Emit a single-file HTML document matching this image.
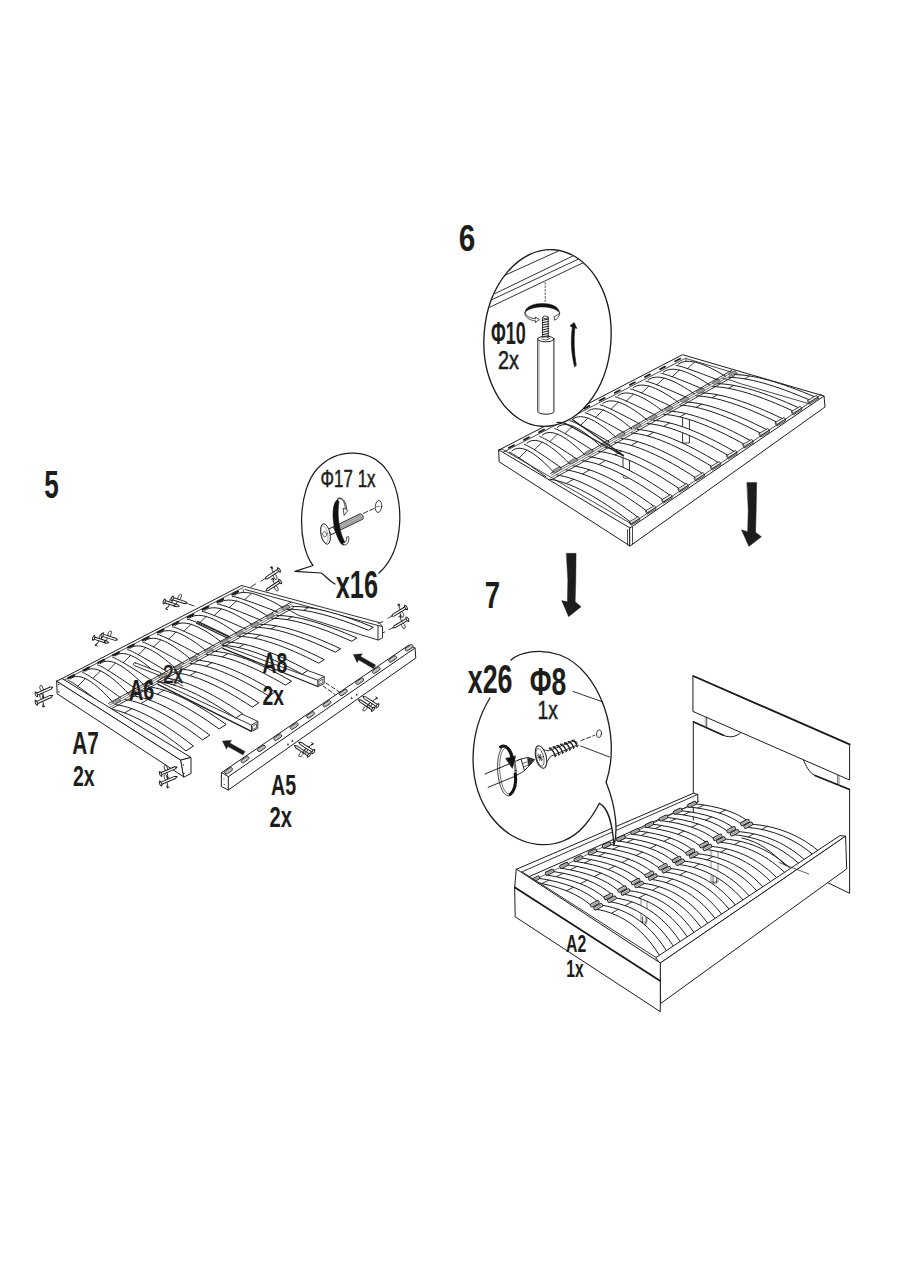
<!DOCTYPE html>
<html><head><meta charset="utf-8"><title>Assembly steps 5-7</title>
<style>
html,body{margin:0;padding:0;background:#fff}
svg{display:block;font-family:"Liberation Sans",sans-serif}
path,line,ellipse,circle{stroke-linecap:round;stroke-linejoin:round}
</style></head><body>
<svg width="900" height="1280" viewBox="0 0 900 1280">
<rect width="900" height="1280" fill="#fff"/>
<path d="M241.5,585.5 L379,622.5 L382.5,626.5 L382.5,638 L378,640 L299,615.5 L288,609.5 L243.3,598.3 L243.3,590" stroke="#1c1c1c" stroke-width="0.9" fill="#fff" />
<path d="M378,625.5 L378,640" stroke="#1c1c1c" stroke-width="0.9" fill="none" />
<path d="M245,589.5 L378,625.5 L382.5,626.5" stroke="#1c1c1c" stroke-width="0.9" fill="none" />
<line x1="60" y1="679.6" x2="241.5" y2="585.5" stroke="#1c1c1c" stroke-width="1" />
<line x1="63" y1="680.8" x2="243" y2="587.6" stroke="#1c1c1c" stroke-width="0.8" />
<path d="M232.3,596.3 C236.9,596.7 255,603.2 277.7,612.1 L284.6,608.4 C264.4,596.2 244.3,587.6 234.6,595.2 Z" fill="#fff" stroke="none"/>
<path d="M232.3,596.3 C236.9,596.7 255,603.2 277.7,612.1 M284.6,608.4 C264.4,596.2 244.3,587.6 234.6,595.2" stroke="#1c1c1c" stroke-width="1.0" fill="none" />
<line x1="244.6" y1="599.8" x2="251.5" y2="593.3" stroke="#1c1c1c" stroke-width="0.9" />
<path d="M217.4,603.9 C221.8,604.4 239.7,611.3 262,620.7 L269,616.9 C249.1,604.2 229.3,595.1 219.6,602.8 Z" fill="#fff" stroke="none"/>
<path d="M217.4,603.9 C221.8,604.4 239.7,611.3 262,620.7 M269,616.9 C249.1,604.2 229.3,595.1 219.6,602.8" stroke="#1c1c1c" stroke-width="1.0" fill="none" />
<line x1="229.4" y1="607.6" x2="236.4" y2="601" stroke="#1c1c1c" stroke-width="0.9" />
<path d="M202.4,611.5 C206.8,612.1 224.3,619.4 246.3,629.3 L253.4,625.4 C233.9,612.2 214.4,602.7 204.7,610.4 Z" fill="#fff" stroke="none"/>
<path d="M202.4,611.5 C206.8,612.1 224.3,619.4 246.3,629.3 M253.4,625.4 C233.9,612.2 214.4,602.7 204.7,610.4" stroke="#1c1c1c" stroke-width="1.0" fill="none" />
<line x1="214.2" y1="615.5" x2="221.3" y2="608.8" stroke="#1c1c1c" stroke-width="0.9" />
<path d="M187.4,619.2 C191.8,619.7 209,627.4 230.6,637.8 L237.7,633.9 C218.6,620.1 199.4,610.2 189.8,618 Z" fill="#fff" stroke="none"/>
<path d="M187.4,619.2 C191.8,619.7 209,627.4 230.6,637.8 M237.7,633.9 C218.6,620.1 199.4,610.2 189.8,618" stroke="#1c1c1c" stroke-width="1.0" fill="none" />
<line x1="199.1" y1="623.3" x2="206.2" y2="616.5" stroke="#1c1c1c" stroke-width="0.9" />
<path d="M172.5,626.8 C176.7,627.4 193.7,635.5 214.9,646.4 L222.1,642.5 C203.3,628.1 184.5,617.7 174.8,625.6 Z" fill="#fff" stroke="none"/>
<path d="M172.5,626.8 C176.7,627.4 193.7,635.5 214.9,646.4 M222.1,642.5 C203.3,628.1 184.5,617.7 174.8,625.6" stroke="#1c1c1c" stroke-width="1.0" fill="none" />
<line x1="183.9" y1="631.2" x2="191.1" y2="624.3" stroke="#1c1c1c" stroke-width="0.9" />
<path d="M157.5,634.4 C161.7,635.1 178.3,643.6 199.2,655 L206.5,651 C188,636 169.5,625.3 159.9,633.2 Z" fill="#fff" stroke="none"/>
<path d="M157.5,634.4 C161.7,635.1 178.3,643.6 199.2,655 M206.5,651 C188,636 169.5,625.3 159.9,633.2" stroke="#1c1c1c" stroke-width="1.0" fill="none" />
<line x1="168.8" y1="639.1" x2="176" y2="632" stroke="#1c1c1c" stroke-width="0.9" />
<path d="M142.6,642 C146.7,642.8 163,651.7 183.5,663.5 L190.9,659.5 C172.7,644 154.6,632.8 145,640.8 Z" fill="#fff" stroke="none"/>
<path d="M142.6,642 C146.7,642.8 163,651.7 183.5,663.5 M190.9,659.5 C172.7,644 154.6,632.8 145,640.8" stroke="#1c1c1c" stroke-width="1.0" fill="none" />
<line x1="153.6" y1="646.9" x2="160.9" y2="639.8" stroke="#1c1c1c" stroke-width="0.9" />
<path d="M127.6,649.6 C131.6,650.5 147.7,659.7 167.8,672.1 L175.2,668 C157.4,652 139.6,640.3 130,648.4 Z" fill="#fff" stroke="none"/>
<path d="M127.6,649.6 C131.6,650.5 147.7,659.7 167.8,672.1 M175.2,668 C157.4,652 139.6,640.3 130,648.4" stroke="#1c1c1c" stroke-width="1.0" fill="none" />
<line x1="138.4" y1="654.8" x2="145.8" y2="647.5" stroke="#1c1c1c" stroke-width="0.9" />
<path d="M112.7,657.3 C116.6,658.2 132.3,667.8 152,680.7 L159.6,676.5 C142.1,659.9 124.6,647.9 115.1,656 Z" fill="#fff" stroke="none"/>
<path d="M112.7,657.3 C116.6,658.2 132.3,667.8 152,680.7 M159.6,676.5 C142.1,659.9 124.6,647.9 115.1,656" stroke="#1c1c1c" stroke-width="1.0" fill="none" />
<line x1="123.3" y1="662.6" x2="130.7" y2="655.3" stroke="#1c1c1c" stroke-width="0.9" />
<path d="M97.7,664.9 C101.6,665.9 117,675.9 136.3,689.2 L144,685.1 C126.8,667.9 109.7,655.4 100.2,663.6 Z" fill="#fff" stroke="none"/>
<path d="M97.7,664.9 C101.6,665.9 117,675.9 136.3,689.2 M144,685.1 C126.8,667.9 109.7,655.4 100.2,663.6" stroke="#1c1c1c" stroke-width="1.0" fill="none" />
<line x1="108.1" y1="670.5" x2="115.6" y2="663" stroke="#1c1c1c" stroke-width="0.9" />
<path d="M82.7,672.5 C86.5,673.6 101.7,684 120.6,697.8 L128.4,693.6 C111.6,675.8 94.7,663 85.2,671.2 Z" fill="#fff" stroke="none"/>
<path d="M82.7,672.5 C86.5,673.6 101.7,684 120.6,697.8 M128.4,693.6 C111.6,675.8 94.7,663 85.2,671.2" stroke="#1c1c1c" stroke-width="1.0" fill="none" />
<line x1="93" y1="678.3" x2="100.5" y2="670.8" stroke="#1c1c1c" stroke-width="0.9" />
<path d="M67.8,680.1 C71.5,681.3 86.3,692 104.9,706.4 L112.8,702.1 C96.3,683.8 79.8,670.5 70.3,678.9 Z" fill="#fff" stroke="none"/>
<path d="M67.8,680.1 C71.5,681.3 86.3,692 104.9,706.4 M112.8,702.1 C96.3,683.8 79.8,670.5 70.3,678.9" stroke="#1c1c1c" stroke-width="1.0" fill="none" />
<line x1="77.8" y1="686.2" x2="85.4" y2="678.5" stroke="#1c1c1c" stroke-width="0.9" />
<path d="M288,609.2 C306.7,608.9 333.6,615.9 368.5,630.3 L373.3,627.2 C338.4,612.9 311.6,606 292.8,606.5 Z" fill="#fff" stroke="none"/>
<path d="M288,609.2 C306.7,608.9 333.6,615.9 368.5,630.3 L373.3,627.2 C338.4,612.9 311.6,606 292.8,606.5" stroke="#1c1c1c" stroke-width="1.0" fill="none" />
<line x1="303.6" y1="610.3" x2="308.4" y2="607.6" stroke="#1c1c1c" stroke-width="0.9" />
<path d="M271.7,618.3 C290.5,618.1 317.3,625.8 351.9,641.3 L356.9,638 C322.3,622.7 295.6,615.2 276.8,615.5 Z" fill="#fff" stroke="none"/>
<path d="M271.7,618.3 C290.5,618.1 317.3,625.8 351.9,641.3 L356.9,638 C322.3,622.7 295.6,615.2 276.8,615.5" stroke="#1c1c1c" stroke-width="1.0" fill="none" />
<line x1="287.3" y1="619.6" x2="292.4" y2="616.7" stroke="#1c1c1c" stroke-width="0.9" />
<path d="M255.4,627.3 C274.3,627.4 301,635.8 335.3,652.2 L340.6,648.8 C306.3,632.5 279.6,624.4 260.7,624.4 Z" fill="#fff" stroke="none"/>
<path d="M255.4,627.3 C274.3,627.4 301,635.8 335.3,652.2 L340.6,648.8 C306.3,632.5 279.6,624.4 260.7,624.4" stroke="#1c1c1c" stroke-width="1.0" fill="none" />
<line x1="271" y1="628.9" x2="276.3" y2="625.9" stroke="#1c1c1c" stroke-width="0.9" />
<path d="M239.1,636.4 C258.1,636.7 284.7,645.7 318.7,663.2 L324.2,659.6 C290.2,642.3 263.6,633.5 244.6,633.3 Z" fill="#fff" stroke="none"/>
<path d="M239.1,636.4 C258.1,636.7 284.7,645.7 318.7,663.2 L324.2,659.6 C290.2,642.3 263.6,633.5 244.6,633.3" stroke="#1c1c1c" stroke-width="1.0" fill="none" />
<line x1="254.8" y1="638.3" x2="260.3" y2="635.1" stroke="#1c1c1c" stroke-width="0.9" />
<path d="M222.7,645.3 L317.8,680.2 L317.8,686.5 L324.2,683.5 L324.2,676.5 L228.7,641.8 Z" stroke="#1c1c1c" stroke-width="0.9" fill="#fff" />
<path d="M317.8,680.2 L324.2,676.5" stroke="#1c1c1c" stroke-width="0.9" fill="none" />
<path d="M319.2,681.2 L322.9,679 L322.9,682.6 L319.2,684.6 Z" stroke="#1c1c1c" stroke-width="0.7" fill="none" />
<line x1="222.7" y1="648.3" x2="317.8" y2="686.5" stroke="#1c1c1c" stroke-width="1.3" />
<path d="M222.8,645.4 C241.9,646 268.4,655.6 302.1,674.2 L307.9,670.4 C274.1,652.1 247.6,642.7 228.5,642.2 Z" fill="#fff" stroke="none"/>
<path d="M222.8,645.4 C241.9,646 268.4,655.6 302.1,674.2 L307.9,670.4 C274.1,652.1 247.6,642.7 228.5,642.2" stroke="#1c1c1c" stroke-width="1.0" fill="none" />
<line x1="238.5" y1="647.6" x2="244.2" y2="644.3" stroke="#1c1c1c" stroke-width="0.9" />
<path d="M206.5,654.5 C225.7,655.4 252,665.6 285.5,685.1 L291.5,681.2 C258,661.9 231.6,651.9 212.5,651.2 Z" fill="#fff" stroke="none"/>
<path d="M206.5,654.5 C225.7,655.4 252,665.6 285.5,685.1 L291.5,681.2 C258,661.9 231.6,651.9 212.5,651.2" stroke="#1c1c1c" stroke-width="1.0" fill="none" />
<line x1="222.2" y1="656.9" x2="228.2" y2="653.5" stroke="#1c1c1c" stroke-width="0.9" />
<path d="M190.2,663.5 C209.4,664.7 235.7,675.6 269,696.1 L275.2,692 C241.9,671.7 215.6,661.1 196.4,660.1 Z" fill="#fff" stroke="none"/>
<path d="M190.2,663.5 C209.4,664.7 235.7,675.6 269,696.1 L275.2,692 C241.9,671.7 215.6,661.1 196.4,660.1" stroke="#1c1c1c" stroke-width="1.0" fill="none" />
<line x1="206" y1="666.2" x2="212.1" y2="662.6" stroke="#1c1c1c" stroke-width="0.9" />
<path d="M173.9,672.6 C193.2,674 219.4,685.5 252.4,707.1 L258.8,702.8 C225.8,681.6 199.6,670.3 180.3,669 Z" fill="#fff" stroke="none"/>
<path d="M173.9,672.6 C193.2,674 219.4,685.5 252.4,707.1 L258.8,702.8 C225.8,681.6 199.6,670.3 180.3,669" stroke="#1c1c1c" stroke-width="1.0" fill="none" />
<line x1="189.7" y1="675.5" x2="196.1" y2="671.8" stroke="#1c1c1c" stroke-width="0.9" />
<path d="M157.9,681.3 L251.4,725.1 L251.4,731.4 L257.8,728.4 L257.8,721.4 L163.9,677.8 Z" stroke="#1c1c1c" stroke-width="0.9" fill="#fff" />
<path d="M251.4,725.1 L257.8,721.4" stroke="#1c1c1c" stroke-width="0.9" fill="none" />
<path d="M252.8,726.1 L256.5,723.9 L256.5,727.5 L252.8,729.5 Z" stroke="#1c1c1c" stroke-width="0.7" fill="none" />
<line x1="157.9" y1="684.3" x2="251.4" y2="731.4" stroke="#1c1c1c" stroke-width="1.3" />
<path d="M157.6,681.6 C177,683.4 203.1,695.5 235.8,718 L242.5,713.6 C209.7,691.4 183.6,679.5 164.3,677.9 Z" fill="#fff" stroke="none"/>
<path d="M157.6,681.6 C177,683.4 203.1,695.5 235.8,718 L242.5,713.6 C209.7,691.4 183.6,679.5 164.3,677.9" stroke="#1c1c1c" stroke-width="1.0" fill="none" />
<line x1="173.4" y1="684.9" x2="180" y2="681" stroke="#1c1c1c" stroke-width="0.9" />
<path d="M141.3,690.6 C160.8,692.7 186.7,705.5 219.2,729 L226.1,724.4 C193.6,701.2 167.6,688.7 148.2,686.8 Z" fill="#fff" stroke="none"/>
<path d="M141.3,690.6 C160.8,692.7 186.7,705.5 219.2,729 L226.1,724.4 C193.6,701.2 167.6,688.7 148.2,686.8" stroke="#1c1c1c" stroke-width="1.0" fill="none" />
<line x1="157.1" y1="694.2" x2="164" y2="690.2" stroke="#1c1c1c" stroke-width="0.9" />
<path d="M125,699.7 C144.5,702.1 170.4,715.5 202.6,739.9 L209.8,735.2 C177.5,711.1 151.6,697.9 132.1,695.8 Z" fill="#fff" stroke="none"/>
<path d="M125,699.7 C144.5,702.1 170.4,715.5 202.6,739.9 L209.8,735.2 C177.5,711.1 151.6,697.9 132.1,695.8" stroke="#1c1c1c" stroke-width="1.0" fill="none" />
<line x1="140.9" y1="703.5" x2="147.9" y2="699.4" stroke="#1c1c1c" stroke-width="0.9" />
<path d="M108.8,708.7 C128.3,711.4 154.1,725.5 186,750.9 L193.4,746 C161.4,720.9 135.6,707.2 116,704.7 Z" fill="#fff" stroke="none"/>
<path d="M108.8,708.7 C128.3,711.4 154.1,725.5 186,750.9 L193.4,746 C161.4,720.9 135.6,707.2 116,704.7" stroke="#1c1c1c" stroke-width="1.0" fill="none" />
<line x1="124.6" y1="712.9" x2="131.9" y2="708.7" stroke="#1c1c1c" stroke-width="0.9" />
<path d="M135.5,662.8 L160.5,672.6 C162,673.6 161,675.8 159.3,675.4 L134.3,665.6 C132.3,664.8 133.5,662.2 135.5,662.8 Z" stroke="#1c1c1c" stroke-width="0.9" fill="#fff" />
<line x1="160.5" y1="673.5" x2="183" y2="686" stroke="#1c1c1c" stroke-width="0.8" />
<line x1="197.5" y1="621.2" x2="229" y2="636.3" stroke="#1c1c1c" stroke-width="1.1" />
<line x1="196.5" y1="623.2" x2="228" y2="638.3" stroke="#1c1c1c" stroke-width="1.1" />
<line x1="108.7" y1="703.4" x2="290.7" y2="602.4" stroke="#1c1c1c" stroke-width="0.9" />
<line x1="109.5" y1="705.1" x2="291.6" y2="604.1" stroke="#1c1c1c" stroke-width="0.6" />
<line x1="110.5" y1="706.9" x2="292.4" y2="605.9" stroke="#1c1c1c" stroke-width="0.6" />
<line x1="111.4" y1="708.8" x2="293.4" y2="607.8" stroke="#1c1c1c" stroke-width="0.9" />
<path d="M112.7,701.6 l6,-3.3 l2.2,2.6 l-6,3.3 z" fill="#9a9a9a" stroke="#1c1c1c" stroke-width="0.5"/>
<path d="M128.1,693.1 l6,-3.3 l2.2,2.6 l-6,3.3 z" fill="#9a9a9a" stroke="#1c1c1c" stroke-width="0.5"/>
<path d="M143.4,684.6 l6,-3.3 l2.2,2.6 l-6,3.3 z" fill="#9a9a9a" stroke="#1c1c1c" stroke-width="0.5"/>
<path d="M158.8,676.1 l6,-3.3 l2.2,2.6 l-6,3.3 z" fill="#9a9a9a" stroke="#1c1c1c" stroke-width="0.5"/>
<path d="M174.2,667.6 l6,-3.3 l2.2,2.6 l-6,3.3 z" fill="#9a9a9a" stroke="#1c1c1c" stroke-width="0.5"/>
<path d="M189.6,659.1 l6,-3.3 l2.2,2.6 l-6,3.3 z" fill="#9a9a9a" stroke="#1c1c1c" stroke-width="0.5"/>
<path d="M204.9,650.6 l6,-3.3 l2.2,2.6 l-6,3.3 z" fill="#9a9a9a" stroke="#1c1c1c" stroke-width="0.5"/>
<path d="M220.3,642.1 l6,-3.3 l2.2,2.6 l-6,3.3 z" fill="#9a9a9a" stroke="#1c1c1c" stroke-width="0.5"/>
<path d="M235.7,633.6 l6,-3.3 l2.2,2.6 l-6,3.3 z" fill="#9a9a9a" stroke="#1c1c1c" stroke-width="0.5"/>
<path d="M251.1,625.1 l6,-3.3 l2.2,2.6 l-6,3.3 z" fill="#9a9a9a" stroke="#1c1c1c" stroke-width="0.5"/>
<path d="M266.4,616.6 l6,-3.3 l2.2,2.6 l-6,3.3 z" fill="#9a9a9a" stroke="#1c1c1c" stroke-width="0.5"/>
<path d="M281.8,608.1 l6,-3.3 l2.2,2.6 l-6,3.3 z" fill="#9a9a9a" stroke="#1c1c1c" stroke-width="0.5"/>
<line x1="68.5" y1="678" x2="74" y2="675.2" stroke="#1c1c1c" stroke-width="2.2" />
<line x1="83.4" y1="670.4" x2="89" y2="667.6" stroke="#1c1c1c" stroke-width="2.2" />
<line x1="98.3" y1="662.8" x2="103.9" y2="660" stroke="#1c1c1c" stroke-width="2.2" />
<line x1="113.2" y1="655.2" x2="118.8" y2="652.4" stroke="#1c1c1c" stroke-width="2.2" />
<line x1="128.1" y1="647.6" x2="133.7" y2="644.8" stroke="#1c1c1c" stroke-width="2.2" />
<line x1="142.9" y1="640" x2="148.6" y2="637.2" stroke="#1c1c1c" stroke-width="2.2" />
<line x1="157.8" y1="632.4" x2="163.4" y2="629.6" stroke="#1c1c1c" stroke-width="2.2" />
<line x1="172.8" y1="624.8" x2="178.4" y2="622" stroke="#1c1c1c" stroke-width="2.2" />
<line x1="187.7" y1="617.2" x2="193.3" y2="614.4" stroke="#1c1c1c" stroke-width="2.2" />
<line x1="202.6" y1="609.6" x2="208.2" y2="606.8" stroke="#1c1c1c" stroke-width="2.2" />
<line x1="217.4" y1="602" x2="223.1" y2="599.2" stroke="#1c1c1c" stroke-width="2.2" />
<line x1="232.4" y1="594.4" x2="238" y2="591.6" stroke="#1c1c1c" stroke-width="2.2" />
<path d="M57,681 L181,760 L184,777 L57.5,694 Z" stroke="#1c1c1c" stroke-width="1" fill="#fff" />
<path d="M57,681 L62,678.5 L191,757.5 L181,760 Z" stroke="#1c1c1c" stroke-width="1" fill="#fff" />
<path d="M181,760 L191,757.5 L191,773.5 L184,777 Z" stroke="#1c1c1c" stroke-width="1" fill="#fff" />
<circle cx="58.7" cy="684.5" r="0.7" fill="#1c1c1c"/>
<circle cx="58.9" cy="692" r="0.7" fill="#1c1c1c"/>
<circle cx="183.5" cy="765" r="0.7" fill="#1c1c1c"/>
<circle cx="184" cy="773.5" r="0.7" fill="#1c1c1c"/>
<path d="M221.7,772.5 L409,645 L415,648 L415.8,658 L228.3,790 L221.7,786.7 Z" stroke="#1c1c1c" stroke-width="1" fill="#fff" />
<path d="M221.7,772.5 L228.3,776.7 L415,648" stroke="#1c1c1c" stroke-width="1" fill="none" />
<line x1="228.3" y1="776.7" x2="228.3" y2="790" stroke="#1c1c1c" stroke-width="1" />
<rect x="-4.4" y="-1.7" width="8.8" height="3.4" rx="1.7" transform="translate(228.6,770.8) rotate(-34)" fill="#cfcfcf" stroke="#1c1c1c" stroke-width="0.8"/>
<rect x="-3" y="-0.6" width="6" height="1.2" rx="0.6" transform="translate(228.6,770.8) rotate(-34)" fill="#fff" stroke="#555" stroke-width="0.4"/>
<rect x="-4.4" y="-1.7" width="8.8" height="3.4" rx="1.7" transform="translate(245,759.6) rotate(-34)" fill="#cfcfcf" stroke="#1c1c1c" stroke-width="0.8"/>
<rect x="-3" y="-0.6" width="6" height="1.2" rx="0.6" transform="translate(245,759.6) rotate(-34)" fill="#fff" stroke="#555" stroke-width="0.4"/>
<rect x="-4.4" y="-1.7" width="8.8" height="3.4" rx="1.7" transform="translate(261.4,748.4) rotate(-34)" fill="#cfcfcf" stroke="#1c1c1c" stroke-width="0.8"/>
<rect x="-3" y="-0.6" width="6" height="1.2" rx="0.6" transform="translate(261.4,748.4) rotate(-34)" fill="#fff" stroke="#555" stroke-width="0.4"/>
<rect x="-4.4" y="-1.7" width="8.8" height="3.4" rx="1.7" transform="translate(277.8,737.3) rotate(-34)" fill="#cfcfcf" stroke="#1c1c1c" stroke-width="0.8"/>
<rect x="-3" y="-0.6" width="6" height="1.2" rx="0.6" transform="translate(277.8,737.3) rotate(-34)" fill="#fff" stroke="#555" stroke-width="0.4"/>
<rect x="-4.4" y="-1.7" width="8.8" height="3.4" rx="1.7" transform="translate(294.2,726.1) rotate(-34)" fill="#cfcfcf" stroke="#1c1c1c" stroke-width="0.8"/>
<rect x="-3" y="-0.6" width="6" height="1.2" rx="0.6" transform="translate(294.2,726.1) rotate(-34)" fill="#fff" stroke="#555" stroke-width="0.4"/>
<rect x="-4.4" y="-1.7" width="8.8" height="3.4" rx="1.7" transform="translate(310.6,714.9) rotate(-34)" fill="#cfcfcf" stroke="#1c1c1c" stroke-width="0.8"/>
<rect x="-3" y="-0.6" width="6" height="1.2" rx="0.6" transform="translate(310.6,714.9) rotate(-34)" fill="#fff" stroke="#555" stroke-width="0.4"/>
<rect x="-4.4" y="-1.7" width="8.8" height="3.4" rx="1.7" transform="translate(327,703.7) rotate(-34)" fill="#cfcfcf" stroke="#1c1c1c" stroke-width="0.8"/>
<rect x="-3" y="-0.6" width="6" height="1.2" rx="0.6" transform="translate(327,703.7) rotate(-34)" fill="#fff" stroke="#555" stroke-width="0.4"/>
<rect x="-4.4" y="-1.7" width="8.8" height="3.4" rx="1.7" transform="translate(343.4,692.5) rotate(-34)" fill="#cfcfcf" stroke="#1c1c1c" stroke-width="0.8"/>
<rect x="-3" y="-0.6" width="6" height="1.2" rx="0.6" transform="translate(343.4,692.5) rotate(-34)" fill="#fff" stroke="#555" stroke-width="0.4"/>
<rect x="-4.4" y="-1.7" width="8.8" height="3.4" rx="1.7" transform="translate(359.8,681.3) rotate(-34)" fill="#cfcfcf" stroke="#1c1c1c" stroke-width="0.8"/>
<rect x="-3" y="-0.6" width="6" height="1.2" rx="0.6" transform="translate(359.8,681.3) rotate(-34)" fill="#fff" stroke="#555" stroke-width="0.4"/>
<rect x="-4.4" y="-1.7" width="8.8" height="3.4" rx="1.7" transform="translate(376.2,670.2) rotate(-34)" fill="#cfcfcf" stroke="#1c1c1c" stroke-width="0.8"/>
<rect x="-3" y="-0.6" width="6" height="1.2" rx="0.6" transform="translate(376.2,670.2) rotate(-34)" fill="#fff" stroke="#555" stroke-width="0.4"/>
<rect x="-4.4" y="-1.7" width="8.8" height="3.4" rx="1.7" transform="translate(392.6,659) rotate(-34)" fill="#cfcfcf" stroke="#1c1c1c" stroke-width="0.8"/>
<rect x="-3" y="-0.6" width="6" height="1.2" rx="0.6" transform="translate(392.6,659) rotate(-34)" fill="#fff" stroke="#555" stroke-width="0.4"/>
<rect x="-4.4" y="-1.7" width="8.8" height="3.4" rx="1.7" transform="translate(409,647.8) rotate(-34)" fill="#cfcfcf" stroke="#1c1c1c" stroke-width="0.8"/>
<rect x="-3" y="-0.6" width="6" height="1.2" rx="0.6" transform="translate(409,647.8) rotate(-34)" fill="#fff" stroke="#555" stroke-width="0.4"/>
<circle cx="224" cy="779" r="0.6" fill="#1c1c1c"/>
<circle cx="224.3" cy="784.5" r="0.6" fill="#1c1c1c"/>
<path d="M287,745.2 l1,-2.4 l1,2.4 z" fill="#1c1c1c"/>
<path d="M291.4,741.7 l1,-2.4 l1,2.4 z" fill="#1c1c1c"/>
<path d="M350.7,699.0 l1,-2.4 l1,2.4 z" fill="#1c1c1c"/>
<path d="M355.7,695.6 l1,-2.4 l1,2.4 z" fill="#1c1c1c"/>
<line x1="323" y1="686" x2="335" y2="694.5" stroke="#1c1c1c" stroke-width="0.9" stroke-dasharray="4 2.5"/>
<line x1="326" y1="683" x2="340" y2="692.5" stroke="#1c1c1c" stroke-width="0.9" stroke-dasharray="4 2.5"/>
<path d="M245,751.4 L230,742.9 L231.5,740.2 L222.4,741 L226.4,749.2 L227.9,746.5 L243,755 Z" stroke="#1d1d1b" stroke-width="0.3" fill="#1d1d1b" />
<path d="M375.7,665.1 L360.8,656.4 L362.4,653.7 L353.3,654.4 L357.1,662.7 L358.7,660 L373.5,668.7 Z" stroke="#1d1d1b" stroke-width="0.3" fill="#1d1d1b" />
<g transform="translate(44.7,694.9)">
<g transform="translate(-0,-4.2) rotate(-24)">
<path d="M-8.75,-1.15 L6.55,-1.15 L8.75,0 L6.55,1.15 L-8.75,1.15 Z" fill="#fff" stroke="#1c1c1c" stroke-width="0.95"/>
<path d="M-9.05,-2.7 C-10.55,-1.5 -10.55,1.5 -9.05,2.7 C-7.85,1.5 -7.85,-1.5 -9.05,-2.7 Z" fill="#fff" stroke="#1c1c1c" stroke-width="0.95"/>
<path d="M-3.0625,-1.3 C-4.4625,-3.9 -2.4625,-7.3 -1.0625,-6.5 C-0.0625,-5.5 -0.4624999999999999,-3 -0.8624999999999998,-1.3" fill="none" stroke="#1c1c1c" stroke-width="0.8"/>
<path d="M-2.8625,1.3 C-2.4625,3.25 -3.4625,5.5249999999999995 -4.6625,6.5 l1.9,0.1 m-1.9,-0.1 l0.4,-1.9" fill="none" stroke="#1c1c1c" stroke-width="0.85"/>
</g>
<g transform="translate(0,4.2) rotate(-24)">
<path d="M-8.75,-1.15 L6.55,-1.15 L8.75,0 L6.55,1.15 L-8.75,1.15 Z" fill="#fff" stroke="#1c1c1c" stroke-width="0.95"/>
<path d="M-9.05,-2.7 C-10.55,-1.5 -10.55,1.5 -9.05,2.7 C-7.85,1.5 -7.85,-1.5 -9.05,-2.7 Z" fill="#fff" stroke="#1c1c1c" stroke-width="0.95"/>
<path d="M-3.0625,-1.3 C-4.4625,-3.9 -2.4625,-7.3 -1.0625,-6.5 C-0.0625,-5.5 -0.4624999999999999,-3 -0.8624999999999998,-1.3" fill="none" stroke="#1c1c1c" stroke-width="0.8"/>
<path d="M-2.8625,1.3 C-2.4625,3.25 -3.4625,5.5249999999999995 -4.6625,6.5 l1.9,0.1 m-1.9,-0.1 l0.4,-1.9" fill="none" stroke="#1c1c1c" stroke-width="0.85"/>
</g>
</g>
<g transform="translate(105.7,639)">
<g transform="translate(-4.3,1.4) rotate(17.7)">
<path d="M-7.75,-1.15 L5.55,-1.15 L7.75,0 L5.55,1.15 L-7.75,1.15 Z" fill="#fff" stroke="#1c1c1c" stroke-width="0.95"/>
<path d="M-8.05,-2.7 C-9.55,-1.5 -9.55,1.5 -8.05,2.7 C-6.85,1.5 -6.85,-1.5 -8.05,-2.7 Z" fill="#fff" stroke="#1c1c1c" stroke-width="0.95"/>
<path d="M-2.7125,-1.3 C-4.1125,-3.9 -2.1125,-7.3 -0.7124999999999999,-6.5 C0.2875000000000001,-5.5 -0.11249999999999982,-3 -0.5124999999999997,-1.3" fill="none" stroke="#1c1c1c" stroke-width="0.8"/>
<path d="M-2.5124999999999997,1.3 C-2.1125,3.25 -3.1125,5.5249999999999995 -4.3125,6.5 l1.9,0.1 m-1.9,-0.1 l0.4,-1.9" fill="none" stroke="#1c1c1c" stroke-width="0.85"/>
</g>
<g transform="translate(4.3,-1.4) rotate(17.7)">
<path d="M-7.75,-1.15 L5.55,-1.15 L7.75,0 L5.55,1.15 L-7.75,1.15 Z" fill="#fff" stroke="#1c1c1c" stroke-width="0.95"/>
<path d="M-8.05,-2.7 C-9.55,-1.5 -9.55,1.5 -8.05,2.7 C-6.85,1.5 -6.85,-1.5 -8.05,-2.7 Z" fill="#fff" stroke="#1c1c1c" stroke-width="0.95"/>
<path d="M-2.7125,-1.3 C-4.1125,-3.9 -2.1125,-7.3 -0.7124999999999999,-6.5 C0.2875000000000001,-5.5 -0.11249999999999982,-3 -0.5124999999999997,-1.3" fill="none" stroke="#1c1c1c" stroke-width="0.8"/>
<path d="M-2.5124999999999997,1.3 C-2.1125,3.25 -3.1125,5.5249999999999995 -4.3125,6.5 l1.9,0.1 m-1.9,-0.1 l0.4,-1.9" fill="none" stroke="#1c1c1c" stroke-width="0.85"/>
</g>
</g>
<g transform="translate(176,602.5)">
<g transform="translate(-4,1.5) rotate(17.7)">
<path d="M-7.75,-1.15 L5.55,-1.15 L7.75,0 L5.55,1.15 L-7.75,1.15 Z" fill="#fff" stroke="#1c1c1c" stroke-width="0.95"/>
<path d="M-8.05,-2.7 C-9.55,-1.5 -9.55,1.5 -8.05,2.7 C-6.85,1.5 -6.85,-1.5 -8.05,-2.7 Z" fill="#fff" stroke="#1c1c1c" stroke-width="0.95"/>
<path d="M-2.7125,-1.3 C-4.1125,-3.9 -2.1125,-7.3 -0.7124999999999999,-6.5 C0.2875000000000001,-5.5 -0.11249999999999982,-3 -0.5124999999999997,-1.3" fill="none" stroke="#1c1c1c" stroke-width="0.8"/>
<path d="M-2.5124999999999997,1.3 C-2.1125,3.25 -3.1125,5.5249999999999995 -4.3125,6.5 l1.9,0.1 m-1.9,-0.1 l0.4,-1.9" fill="none" stroke="#1c1c1c" stroke-width="0.85"/>
</g>
<g transform="translate(4,-1.5) rotate(17.7)">
<path d="M-7.75,-1.15 L5.55,-1.15 L7.75,0 L5.55,1.15 L-7.75,1.15 Z" fill="#fff" stroke="#1c1c1c" stroke-width="0.95"/>
<path d="M-8.05,-2.7 C-9.55,-1.5 -9.55,1.5 -8.05,2.7 C-6.85,1.5 -6.85,-1.5 -8.05,-2.7 Z" fill="#fff" stroke="#1c1c1c" stroke-width="0.95"/>
<path d="M-2.7125,-1.3 C-4.1125,-3.9 -2.1125,-7.3 -0.7124999999999999,-6.5 C0.2875000000000001,-5.5 -0.11249999999999982,-3 -0.5124999999999997,-1.3" fill="none" stroke="#1c1c1c" stroke-width="0.8"/>
<path d="M-2.5124999999999997,1.3 C-2.1125,3.25 -3.1125,5.5249999999999995 -4.3125,6.5 l1.9,0.1 m-1.9,-0.1 l0.4,-1.9" fill="none" stroke="#1c1c1c" stroke-width="0.85"/>
</g>
</g>
<g transform="translate(272.3,580.4)">
<g transform="translate(-0.6,-5.8) rotate(147)">
<path d="M-8.2,-1.15 L5.999999999999999,-1.15 L8.2,0 L5.999999999999999,1.15 L-8.2,1.15 Z" fill="#fff" stroke="#1c1c1c" stroke-width="0.95"/>
<path d="M-8.5,-2.7 C-10.0,-1.5 -10.0,1.5 -8.5,2.7 C-7.299999999999999,1.5 -7.299999999999999,-1.5 -8.5,-2.7 Z" fill="#fff" stroke="#1c1c1c" stroke-width="0.95"/>
<path d="M-2.8699999999999997,-1.3 C-4.27,-3.9 -2.2699999999999996,-7.3 -0.8699999999999997,-6.5 C0.13000000000000034,-5.5 -0.2699999999999996,-3 -0.6699999999999995,-1.3" fill="none" stroke="#1c1c1c" stroke-width="0.8"/>
<path d="M-2.6699999999999995,1.3 C-2.2699999999999996,3.25 -3.2699999999999996,5.5249999999999995 -4.47,6.5 l1.9,0.1 m-1.9,-0.1 l0.4,-1.9" fill="none" stroke="#1c1c1c" stroke-width="0.85"/>
</g>
<g transform="translate(0.6,5.8) rotate(147)">
<path d="M-8.2,-1.15 L5.999999999999999,-1.15 L8.2,0 L5.999999999999999,1.15 L-8.2,1.15 Z" fill="#fff" stroke="#1c1c1c" stroke-width="0.95"/>
<path d="M-8.5,-2.7 C-10.0,-1.5 -10.0,1.5 -8.5,2.7 C-7.299999999999999,1.5 -7.299999999999999,-1.5 -8.5,-2.7 Z" fill="#fff" stroke="#1c1c1c" stroke-width="0.95"/>
<path d="M-2.8699999999999997,-1.3 C-4.27,-3.9 -2.2699999999999996,-7.3 -0.8699999999999997,-6.5 C0.13000000000000034,-5.5 -0.2699999999999996,-3 -0.6699999999999995,-1.3" fill="none" stroke="#1c1c1c" stroke-width="0.8"/>
<path d="M-2.6699999999999995,1.3 C-2.2699999999999996,3.25 -3.2699999999999996,5.5249999999999995 -4.47,6.5 l1.9,0.1 m-1.9,-0.1 l0.4,-1.9" fill="none" stroke="#1c1c1c" stroke-width="0.85"/>
</g>
</g>
<g transform="translate(399.3,617.8)">
<g transform="translate(-0.7,-5.8) rotate(149)">
<path d="M-8.25,-1.15 L6.05,-1.15 L8.25,0 L6.05,1.15 L-8.25,1.15 Z" fill="#fff" stroke="#1c1c1c" stroke-width="0.95"/>
<path d="M-8.55,-2.7 C-10.05,-1.5 -10.05,1.5 -8.55,2.7 C-7.35,1.5 -7.35,-1.5 -8.55,-2.7 Z" fill="#fff" stroke="#1c1c1c" stroke-width="0.95"/>
<path d="M-2.8874999999999997,-1.3 C-4.2875,-3.9 -2.2874999999999996,-7.3 -0.8874999999999997,-6.5 C0.11250000000000027,-5.5 -0.28749999999999964,-3 -0.6874999999999996,-1.3" fill="none" stroke="#1c1c1c" stroke-width="0.8"/>
<path d="M-2.6874999999999996,1.3 C-2.2874999999999996,3.25 -3.2874999999999996,5.5249999999999995 -4.4875,6.5 l1.9,0.1 m-1.9,-0.1 l0.4,-1.9" fill="none" stroke="#1c1c1c" stroke-width="0.85"/>
</g>
<g transform="translate(0.7,5.8) rotate(149)">
<path d="M-8.25,-1.15 L6.05,-1.15 L8.25,0 L6.05,1.15 L-8.25,1.15 Z" fill="#fff" stroke="#1c1c1c" stroke-width="0.95"/>
<path d="M-8.55,-2.7 C-10.05,-1.5 -10.05,1.5 -8.55,2.7 C-7.35,1.5 -7.35,-1.5 -8.55,-2.7 Z" fill="#fff" stroke="#1c1c1c" stroke-width="0.95"/>
<path d="M-2.8874999999999997,-1.3 C-4.2875,-3.9 -2.2874999999999996,-7.3 -0.8874999999999997,-6.5 C0.11250000000000027,-5.5 -0.28749999999999964,-3 -0.6874999999999996,-1.3" fill="none" stroke="#1c1c1c" stroke-width="0.8"/>
<path d="M-2.6874999999999996,1.3 C-2.2874999999999996,3.25 -3.2874999999999996,5.5249999999999995 -4.4875,6.5 l1.9,0.1 m-1.9,-0.1 l0.4,-1.9" fill="none" stroke="#1c1c1c" stroke-width="0.85"/>
</g>
</g>
<g transform="translate(367.8,702.7)">
<g transform="translate(-2.2,1.7) rotate(213)">
<path d="M-8.5,-1.15 L6.3,-1.15 L8.5,0 L6.3,1.15 L-8.5,1.15 Z" fill="#fff" stroke="#1c1c1c" stroke-width="0.95"/>
<path d="M-8.8,-2.7 C-10.3,-1.5 -10.3,1.5 -8.8,2.7 C-7.6,1.5 -7.6,-1.5 -8.8,-2.7 Z" fill="#fff" stroke="#1c1c1c" stroke-width="0.95"/>
<path d="M-2.9749999999999996,-1.3 C-4.375,-3.9 -2.3749999999999996,-7.3 -0.9749999999999996,-6.5 C0.025000000000000355,-5.5 -0.37499999999999956,-3 -0.7749999999999995,-1.3" fill="none" stroke="#1c1c1c" stroke-width="0.8"/>
<path d="M-2.7749999999999995,1.3 C-2.3749999999999996,3.25 -3.3749999999999996,5.5249999999999995 -4.574999999999999,6.5 l1.9,0.1 m-1.9,-0.1 l0.4,-1.9" fill="none" stroke="#1c1c1c" stroke-width="0.85"/>
</g>
<g transform="translate(2.2,-1.7) rotate(213)">
<path d="M-8.5,-1.15 L6.3,-1.15 L8.5,0 L6.3,1.15 L-8.5,1.15 Z" fill="#fff" stroke="#1c1c1c" stroke-width="0.95"/>
<path d="M-8.8,-2.7 C-10.3,-1.5 -10.3,1.5 -8.8,2.7 C-7.6,1.5 -7.6,-1.5 -8.8,-2.7 Z" fill="#fff" stroke="#1c1c1c" stroke-width="0.95"/>
<path d="M-2.9749999999999996,-1.3 C-4.375,-3.9 -2.3749999999999996,-7.3 -0.9749999999999996,-6.5 C0.025000000000000355,-5.5 -0.37499999999999956,-3 -0.7749999999999995,-1.3" fill="none" stroke="#1c1c1c" stroke-width="0.8"/>
<path d="M-2.7749999999999995,1.3 C-2.3749999999999996,3.25 -3.3749999999999996,5.5249999999999995 -4.574999999999999,6.5 l1.9,0.1 m-1.9,-0.1 l0.4,-1.9" fill="none" stroke="#1c1c1c" stroke-width="0.85"/>
</g>
</g>
<g transform="translate(303.7,748.5)">
<g transform="translate(-2.2,1.7) rotate(213)">
<path d="M-8.5,-1.15 L6.3,-1.15 L8.5,0 L6.3,1.15 L-8.5,1.15 Z" fill="#fff" stroke="#1c1c1c" stroke-width="0.95"/>
<path d="M-8.8,-2.7 C-10.3,-1.5 -10.3,1.5 -8.8,2.7 C-7.6,1.5 -7.6,-1.5 -8.8,-2.7 Z" fill="#fff" stroke="#1c1c1c" stroke-width="0.95"/>
<path d="M-2.9749999999999996,-1.3 C-4.375,-3.9 -2.3749999999999996,-7.3 -0.9749999999999996,-6.5 C0.025000000000000355,-5.5 -0.37499999999999956,-3 -0.7749999999999995,-1.3" fill="none" stroke="#1c1c1c" stroke-width="0.8"/>
<path d="M-2.7749999999999995,1.3 C-2.3749999999999996,3.25 -3.3749999999999996,5.5249999999999995 -4.574999999999999,6.5 l1.9,0.1 m-1.9,-0.1 l0.4,-1.9" fill="none" stroke="#1c1c1c" stroke-width="0.85"/>
</g>
<g transform="translate(2.2,-1.7) rotate(213)">
<path d="M-8.5,-1.15 L6.3,-1.15 L8.5,0 L6.3,1.15 L-8.5,1.15 Z" fill="#fff" stroke="#1c1c1c" stroke-width="0.95"/>
<path d="M-8.8,-2.7 C-10.3,-1.5 -10.3,1.5 -8.8,2.7 C-7.6,1.5 -7.6,-1.5 -8.8,-2.7 Z" fill="#fff" stroke="#1c1c1c" stroke-width="0.95"/>
<path d="M-2.9749999999999996,-1.3 C-4.375,-3.9 -2.3749999999999996,-7.3 -0.9749999999999996,-6.5 C0.025000000000000355,-5.5 -0.37499999999999956,-3 -0.7749999999999995,-1.3" fill="none" stroke="#1c1c1c" stroke-width="0.8"/>
<path d="M-2.7749999999999995,1.3 C-2.3749999999999996,3.25 -3.3749999999999996,5.5249999999999995 -4.574999999999999,6.5 l1.9,0.1 m-1.9,-0.1 l0.4,-1.9" fill="none" stroke="#1c1c1c" stroke-width="0.85"/>
</g>
</g>
<g transform="translate(169,775.2)">
<g transform="translate(-0,-4.8) rotate(-23)">
<path d="M-8.75,-1.15 L6.55,-1.15 L8.75,0 L6.55,1.15 L-8.75,1.15 Z" fill="#fff" stroke="#1c1c1c" stroke-width="0.95"/>
<path d="M-9.05,-2.7 C-10.55,-1.5 -10.55,1.5 -9.05,2.7 C-7.85,1.5 -7.85,-1.5 -9.05,-2.7 Z" fill="#fff" stroke="#1c1c1c" stroke-width="0.95"/>
<path d="M-3.0625,-1.3 C-4.4625,-3.9 -2.4625,-7.3 -1.0625,-6.5 C-0.0625,-5.5 -0.4624999999999999,-3 -0.8624999999999998,-1.3" fill="none" stroke="#1c1c1c" stroke-width="0.8"/>
<path d="M-2.8625,1.3 C-2.4625,3.25 -3.4625,5.5249999999999995 -4.6625,6.5 l1.9,0.1 m-1.9,-0.1 l0.4,-1.9" fill="none" stroke="#1c1c1c" stroke-width="0.85"/>
</g>
<g transform="translate(0,4.8) rotate(-23)">
<path d="M-8.75,-1.15 L6.55,-1.15 L8.75,0 L6.55,1.15 L-8.75,1.15 Z" fill="#fff" stroke="#1c1c1c" stroke-width="0.95"/>
<path d="M-9.05,-2.7 C-10.55,-1.5 -10.55,1.5 -9.05,2.7 C-7.85,1.5 -7.85,-1.5 -9.05,-2.7 Z" fill="#fff" stroke="#1c1c1c" stroke-width="0.95"/>
<path d="M-3.0625,-1.3 C-4.4625,-3.9 -2.4625,-7.3 -1.0625,-6.5 C-0.0625,-5.5 -0.4624999999999999,-3 -0.8624999999999998,-1.3" fill="none" stroke="#1c1c1c" stroke-width="0.8"/>
<path d="M-2.8625,1.3 C-2.4625,3.25 -3.4625,5.5249999999999995 -4.6625,6.5 l1.9,0.1 m-1.9,-0.1 l0.4,-1.9" fill="none" stroke="#1c1c1c" stroke-width="0.85"/>
</g>
</g>
<line x1="188.7" y1="604" x2="194" y2="606" stroke="#1c1c1c" stroke-width="0.9" />
<line x1="260.9" y1="581.3" x2="263.8" y2="579.4" stroke="#1c1c1c" stroke-width="0.9" />
<line x1="251" y1="587" x2="255.5" y2="584" stroke="#1c1c1c" stroke-width="0.9" />
<line x1="387.8" y1="618.4" x2="391.7" y2="616.1" stroke="#1c1c1c" stroke-width="0.8" />
<line x1="388.9" y1="629.6" x2="392.8" y2="627.8" stroke="#1c1c1c" stroke-width="0.8" />
<line x1="378.3" y1="623.3" x2="382.8" y2="621.7" stroke="#1c1c1c" stroke-width="0.9" />
<line x1="382.8" y1="632.8" x2="384.6" y2="632" stroke="#1c1c1c" stroke-width="0.9" />
<path d="M335,584 C328,580 325,575 321,573 L295,571.4 L313,565.5 C297,545 297,490 318,468 C338,447 372,448 388,472 C405,497 405,550 379,573" stroke="#1c1c1c" stroke-width="1.25" fill="none" />
<g transform="translate(325.5,534) rotate(-26)">
<path d="M4,-3 L40,-3 C42,-2 42,2 40,3 L4,3 Z" fill="#b9b9b9" stroke="#1c1c1c" stroke-width="0.8"/>
<path d="M4,-3 L10,-3 L10,3 L4,3 Z" fill="#fff" stroke="#1c1c1c" stroke-width="0.7"/>
<path d="M11,-1 L40,-1 M11,1.2 L40,1.2" stroke="#777" stroke-width="0.6"/>
<ellipse cx="0" cy="0" rx="4.6" ry="10.4" transform="rotate(14)" fill="#fff" stroke="#1c1c1c" stroke-width="0.9"/>
<ellipse cx="-1" cy="0" rx="3.2" ry="8.6" transform="rotate(14)" fill="none" stroke="#666" stroke-width="0.5"/>
<path d="M-2.2,-2.2 L0,-3 L1.2,-0.8 L0.4,2 L-1.8,2.6 L-2.8,0.4 Z" fill="none" stroke="#1c1c1c" stroke-width="0.6"/>
</g>
<line x1="363.5" y1="513.3" x2="374" y2="508.5" stroke="#1c1c1c" stroke-width="0.9" stroke-dasharray="4.5 2.5"/>
<ellipse cx="378.5" cy="506.5" rx="3.2" ry="6" transform="rotate(6 378.5 506.5)" fill="#fff" stroke="#1c1c1c" stroke-width="0.8"/>
<line x1="376.5" y1="506.8" x2="379.5" y2="506.2" stroke="#1c1c1c" stroke-width="0.6" />
<path d="M337.5,499.5 C331,503 331,528 340.5,543 C342.5,545.8 345,545.4 346,543.6 C341.5,538 336,519 339,502 Z" stroke="#111" stroke-width="0.5" fill="#111" />
<path d="M343.2,544.6 C347.2,546 349.6,542 348.6,536.6 L346.4,537.2 C347,541 345.6,543 343.6,542.6" stroke="#1c1c1c" stroke-width="0.8" fill="#fff" />
<path d="M337.5,499.5 C341.5,496.5 345,501.5 345.4,509 L343,508.4 L344.2,515.4 L347.8,510.4 L346.6,510 C346.6,502 342.4,496.4 337.5,498.2" stroke="#1c1c1c" stroke-width="0.8" fill="#fff" />
<path d="M499,450 L682.5,354.7 L824,396" stroke="#1c1c1c" stroke-width="1" fill="none" />
<path d="M503.5,452 L685.5,358.3 L819,398.5" stroke="#1c1c1c" stroke-width="0.8" fill="none" />
<path d="M686,359 L686,368 L733,381 L740,383.5 L815,405.5" stroke="#1c1c1c" stroke-width="0.8" fill="none" />
<path d="M676.2,365.4 C680.4,365.7 697.4,371.9 718.7,380.3 L725.6,376.4 C706.8,364.7 687.9,356.5 678.4,364.2 Z" fill="#fff" stroke="none"/>
<path d="M676.2,365.4 C680.4,365.7 697.4,371.9 718.7,380.3 M725.6,376.4 C706.8,364.7 687.9,356.5 678.4,364.2" stroke="#1c1c1c" stroke-width="1.0" fill="none" />
<line x1="687.6" y1="368.6" x2="694.6" y2="362" stroke="#1c1c1c" stroke-width="0.9" />
<path d="M661,373.3 C665.2,373.7 682,380.2 703,389.1 L710,385.2 C691.4,372.9 672.8,364.3 663.3,372.1 Z" fill="#fff" stroke="none"/>
<path d="M661,373.3 C665.2,373.7 682,380.2 703,389.1 M710,385.2 C691.4,372.9 672.8,364.3 663.3,372.1" stroke="#1c1c1c" stroke-width="1.0" fill="none" />
<line x1="672.3" y1="376.7" x2="679.4" y2="370" stroke="#1c1c1c" stroke-width="0.9" />
<path d="M645.8,381.2 C650,381.6 666.6,388.5 687.3,397.8 L694.4,393.9 C676,381.1 657.6,372.1 648.1,380 Z" fill="#fff" stroke="none"/>
<path d="M645.8,381.2 C650,381.6 666.6,388.5 687.3,397.8 M694.4,393.9 C676,381.1 657.6,372.1 648.1,380" stroke="#1c1c1c" stroke-width="1.0" fill="none" />
<line x1="657" y1="384.8" x2="664.1" y2="378" stroke="#1c1c1c" stroke-width="0.9" />
<path d="M630.7,389.1 C634.8,389.6 651.1,396.8 671.6,406.6 L678.7,402.6 C660.6,389.3 642.5,379.9 633,387.9 Z" fill="#fff" stroke="none"/>
<path d="M630.7,389.1 C634.8,389.6 651.1,396.8 671.6,406.6 M678.7,402.6 C660.6,389.3 642.5,379.9 633,387.9" stroke="#1c1c1c" stroke-width="1.0" fill="none" />
<line x1="641.7" y1="393" x2="648.9" y2="386" stroke="#1c1c1c" stroke-width="0.9" />
<path d="M615.5,397 C619.5,397.5 635.7,405.1 655.9,415.4 L663.1,411.4 C645.2,397.5 627.4,387.7 617.9,395.8 Z" fill="#fff" stroke="none"/>
<path d="M615.5,397 C619.5,397.5 635.7,405.1 655.9,415.4 M663.1,411.4 C645.2,397.5 627.4,387.7 617.9,395.8" stroke="#1c1c1c" stroke-width="1.0" fill="none" />
<line x1="626.4" y1="401.1" x2="633.6" y2="394" stroke="#1c1c1c" stroke-width="0.9" />
<path d="M600.3,404.9 C604.3,405.5 620.2,413.4 640.2,424.2 L647.5,420.1 C629.9,405.7 612.2,395.5 602.7,403.6 Z" fill="#fff" stroke="none"/>
<path d="M600.3,404.9 C604.3,405.5 620.2,413.4 640.2,424.2 M647.5,420.1 C629.9,405.7 612.2,395.5 602.7,403.6" stroke="#1c1c1c" stroke-width="1.0" fill="none" />
<line x1="611.1" y1="409.2" x2="618.4" y2="402" stroke="#1c1c1c" stroke-width="0.9" />
<path d="M585.2,412.8 C589.1,413.4 604.8,421.8 624.5,432.9 L631.9,428.8 C614.5,413.9 597.1,403.3 587.6,411.5 Z" fill="#fff" stroke="none"/>
<path d="M585.2,412.8 C589.1,413.4 604.8,421.8 624.5,432.9 M631.9,428.8 C614.5,413.9 597.1,403.3 587.6,411.5" stroke="#1c1c1c" stroke-width="1.0" fill="none" />
<line x1="595.8" y1="417.3" x2="603.1" y2="410" stroke="#1c1c1c" stroke-width="0.9" />
<path d="M570,420.7 C573.9,421.4 589.4,430.1 608.8,441.7 L616.2,437.5 C599.1,422.1 581.9,411.1 572.4,419.4 Z" fill="#fff" stroke="none"/>
<path d="M570,420.7 C573.9,421.4 589.4,430.1 608.8,441.7 M616.2,437.5 C599.1,422.1 581.9,411.1 572.4,419.4" stroke="#1c1c1c" stroke-width="1.0" fill="none" />
<line x1="580.5" y1="425.4" x2="587.9" y2="418.1" stroke="#1c1c1c" stroke-width="0.9" />
<path d="M554.8,428.6 C558.6,429.4 573.9,438.4 593,450.5 L600.6,446.3 C583.7,430.3 566.8,418.9 557.3,427.3 Z" fill="#fff" stroke="none"/>
<path d="M554.8,428.6 C558.6,429.4 573.9,438.4 593,450.5 M600.6,446.3 C583.7,430.3 566.8,418.9 557.3,427.3" stroke="#1c1c1c" stroke-width="1.0" fill="none" />
<line x1="565.1" y1="433.5" x2="572.6" y2="426.1" stroke="#1c1c1c" stroke-width="0.9" />
<path d="M539.7,436.5 C543.4,437.3 558.5,446.7 577.3,459.3 L585,455 C568.3,438.5 551.7,426.7 542.2,435.2 Z" fill="#fff" stroke="none"/>
<path d="M539.7,436.5 C543.4,437.3 558.5,446.7 577.3,459.3 M585,455 C568.3,438.5 551.7,426.7 542.2,435.2" stroke="#1c1c1c" stroke-width="1.0" fill="none" />
<line x1="549.8" y1="441.7" x2="557.4" y2="434.1" stroke="#1c1c1c" stroke-width="0.9" />
<path d="M524.5,444.4 C528.2,445.3 543.1,455 561.6,468 L569.4,463.7 C553,446.7 536.5,434.5 527,443.1 Z" fill="#fff" stroke="none"/>
<path d="M524.5,444.4 C528.2,445.3 543.1,455 561.6,468 M569.4,463.7 C553,446.7 536.5,434.5 527,443.1" stroke="#1c1c1c" stroke-width="1.0" fill="none" />
<line x1="534.5" y1="449.8" x2="542.1" y2="442.1" stroke="#1c1c1c" stroke-width="0.9" />
<path d="M509.3,452.3 C513,453.2 527.6,463.3 545.9,476.8 L553.8,472.4 C537.6,454.9 521.4,442.3 511.9,450.9 Z" fill="#fff" stroke="none"/>
<path d="M509.3,452.3 C513,453.2 527.6,463.3 545.9,476.8 M553.8,472.4 C537.6,454.9 521.4,442.3 511.9,450.9" stroke="#1c1c1c" stroke-width="1.0" fill="none" />
<line x1="519.2" y1="457.9" x2="526.9" y2="450.1" stroke="#1c1c1c" stroke-width="0.9" />
<path d="M682.6,417 L682.6,443 L689.4,443 L689.4,419" stroke="#1c1c1c" stroke-width="0.9" fill="none" />
<path d="M729,377.4 C748,377.4 775.2,385.1 810.5,400.4 L815.3,397.1 C780,382 752.8,374.5 733.8,374.6 Z" fill="#fff" stroke="none"/>
<path d="M729,377.4 C748,377.4 775.2,385.1 810.5,400.4 M815.3,397.1 C780,382 752.8,374.5 733.8,374.6" stroke="#1c1c1c" stroke-width="1.0" fill="none" />
<line x1="744.8" y1="378.8" x2="749.6" y2="376" stroke="#1c1c1c" stroke-width="0.9" />
<path d="M712.7,386.6 C731.8,386.9 759,395.2 794.2,411.5 L799.2,408 C764.1,392 736.9,383.9 717.8,383.7 Z" fill="#fff" stroke="none"/>
<path d="M712.7,386.6 C731.8,386.9 759,395.2 794.2,411.5 M799.2,408 C764.1,392 736.9,383.9 717.8,383.7" stroke="#1c1c1c" stroke-width="1.0" fill="none" />
<line x1="728.5" y1="388.3" x2="733.6" y2="385.4" stroke="#1c1c1c" stroke-width="0.9" />
<path d="M696.4,395.9 C715.7,396.4 742.9,405.3 777.8,422.6 L783.2,419 C748.2,402 721,393.3 701.7,392.9 Z" fill="#fff" stroke="none"/>
<path d="M696.4,395.9 C715.7,396.4 742.9,405.3 777.8,422.6 M783.2,419 C748.2,402 721,393.3 701.7,392.9" stroke="#1c1c1c" stroke-width="1.0" fill="none" />
<line x1="712.3" y1="397.8" x2="717.6" y2="394.7" stroke="#1c1c1c" stroke-width="0.9" />
<path d="M680.1,405.1 C699.5,405.9 726.7,415.4 761.5,433.7 L767.1,429.9 C732.2,411.9 705,402.6 685.6,402 Z" fill="#fff" stroke="none"/>
<path d="M680.1,405.1 C699.5,405.9 726.7,415.4 761.5,433.7 M767.1,429.9 C732.2,411.9 705,402.6 685.6,402" stroke="#1c1c1c" stroke-width="1.0" fill="none" />
<line x1="696.1" y1="407.4" x2="701.6" y2="404.1" stroke="#1c1c1c" stroke-width="0.9" />
<path d="M663.8,414.4 C683.4,415.4 710.6,425.6 745.2,444.8 L751,440.9 C716.3,421.9 689.1,412 669.5,411.1 Z" fill="#fff" stroke="none"/>
<path d="M663.8,414.4 C683.4,415.4 710.6,425.6 745.2,444.8 M751,440.9 C716.3,421.9 689.1,412 669.5,411.1" stroke="#1c1c1c" stroke-width="1.0" fill="none" />
<line x1="679.9" y1="416.9" x2="685.6" y2="413.5" stroke="#1c1c1c" stroke-width="0.9" />
<path d="M647.5,423.6 C667.2,424.9 694.4,435.7 728.9,455.9 L734.9,451.8 C700.4,431.9 673.2,421.4 653.5,420.3 Z" fill="#fff" stroke="none"/>
<path d="M647.5,423.6 C667.2,424.9 694.4,435.7 728.9,455.9 M734.9,451.8 C700.4,431.9 673.2,421.4 653.5,420.3" stroke="#1c1c1c" stroke-width="1.0" fill="none" />
<line x1="663.7" y1="426.4" x2="669.7" y2="422.9" stroke="#1c1c1c" stroke-width="0.9" />
<path d="M631.2,432.9 C651.1,434.4 678.2,445.8 712.6,467 L718.8,462.8 C684.4,441.9 657.3,430.8 637.4,429.4 Z" fill="#fff" stroke="none"/>
<path d="M631.2,432.9 C651.1,434.4 678.2,445.8 712.6,467 M718.8,462.8 C684.4,441.9 657.3,430.8 637.4,429.4" stroke="#1c1c1c" stroke-width="1.0" fill="none" />
<line x1="647.5" y1="435.9" x2="653.7" y2="432.2" stroke="#1c1c1c" stroke-width="0.9" />
<path d="M614.9,442.2 C634.9,444 662.1,455.9 696.3,478.1 L702.7,473.7 C668.5,451.9 641.3,440.2 621.3,438.5 Z" fill="#fff" stroke="none"/>
<path d="M614.9,442.2 C634.9,444 662.1,455.9 696.3,478.1 M702.7,473.7 C668.5,451.9 641.3,440.2 621.3,438.5" stroke="#1c1c1c" stroke-width="1.0" fill="none" />
<line x1="631.3" y1="445.4" x2="637.7" y2="441.6" stroke="#1c1c1c" stroke-width="0.9" />
<path d="M623,452 L623,475 L629.5,475 L629.5,453" stroke="#1c1c1c" stroke-width="0.9" fill="#fff" />
<ellipse cx="626.3" cy="476.8" rx="3.2" ry="1.7" fill="#fff" stroke="#1c1c1c" stroke-width="0.8"/>
<path d="M598.6,451.4 C618.8,453.5 645.9,466.1 680,489.2 L686.6,484.7 C652.5,461.9 625.4,449.6 605.3,447.6 Z" fill="#fff" stroke="none"/>
<path d="M598.6,451.4 C618.8,453.5 645.9,466.1 680,489.2 M686.6,484.7 C652.5,461.9 625.4,449.6 605.3,447.6" stroke="#1c1c1c" stroke-width="1.0" fill="none" />
<line x1="615.1" y1="454.9" x2="621.7" y2="451" stroke="#1c1c1c" stroke-width="0.9" />
<path d="M582.3,460.7 C602.6,463 629.8,476.2 663.7,500.3 L670.5,495.6 C636.6,471.9 609.5,459 589.2,456.8 Z" fill="#fff" stroke="none"/>
<path d="M582.3,460.7 C602.6,463 629.8,476.2 663.7,500.3 M670.5,495.6 C636.6,471.9 609.5,459 589.2,456.8" stroke="#1c1c1c" stroke-width="1.0" fill="none" />
<line x1="598.8" y1="464.5" x2="605.7" y2="460.4" stroke="#1c1c1c" stroke-width="0.9" />
<path d="M566,469.9 C586.5,472.6 613.6,486.4 647.4,511.4 L654.4,506.6 C620.7,481.9 593.6,468.4 573.1,465.9 Z" fill="#fff" stroke="none"/>
<path d="M566,469.9 C586.5,472.6 613.6,486.4 647.4,511.4 M654.4,506.6 C620.7,481.9 593.6,468.4 573.1,465.9" stroke="#1c1c1c" stroke-width="1.0" fill="none" />
<line x1="582.6" y1="474" x2="589.7" y2="469.8" stroke="#1c1c1c" stroke-width="0.9" />
<path d="M549.8,479.2 C570.3,482.1 597.5,496.6 631.1,522.5 L638.3,517.5 C604.7,492 577.6,477.8 557,475 Z" fill="#fff" stroke="none"/>
<path d="M549.8,479.2 C570.3,482.1 597.5,496.6 631.1,522.5 M638.3,517.5 C604.7,492 577.6,477.8 557,475" stroke="#1c1c1c" stroke-width="1.0" fill="none" />
<line x1="566.4" y1="483.5" x2="573.7" y2="479.2" stroke="#1c1c1c" stroke-width="0.9" />
<line x1="550.7" y1="473.4" x2="731.7" y2="370.4" stroke="#1c1c1c" stroke-width="0.9" />
<line x1="551.5" y1="475.1" x2="732.5" y2="372.1" stroke="#1c1c1c" stroke-width="0.6" />
<line x1="552.5" y1="476.9" x2="733.5" y2="373.9" stroke="#1c1c1c" stroke-width="0.6" />
<line x1="553.4" y1="478.8" x2="734.4" y2="375.8" stroke="#1c1c1c" stroke-width="0.9" />
<path d="M553.2,470 l6,-3.3 l2.2,2.6 l-6,3.3 z" fill="#9a9a9a" stroke="#1c1c1c" stroke-width="0.5"/>
<path d="M569.2,461.3 l6,-3.3 l2.2,2.6 l-6,3.3 z" fill="#9a9a9a" stroke="#1c1c1c" stroke-width="0.5"/>
<path d="M585.1,452.5 l6,-3.3 l2.2,2.6 l-6,3.3 z" fill="#9a9a9a" stroke="#1c1c1c" stroke-width="0.5"/>
<path d="M601.1,443.8 l6,-3.3 l2.2,2.6 l-6,3.3 z" fill="#9a9a9a" stroke="#1c1c1c" stroke-width="0.5"/>
<path d="M617,435 l6,-3.3 l2.2,2.6 l-6,3.3 z" fill="#9a9a9a" stroke="#1c1c1c" stroke-width="0.5"/>
<path d="M633,426.3 l6,-3.3 l2.2,2.6 l-6,3.3 z" fill="#9a9a9a" stroke="#1c1c1c" stroke-width="0.5"/>
<path d="M648.9,417.5 l6,-3.3 l2.2,2.6 l-6,3.3 z" fill="#9a9a9a" stroke="#1c1c1c" stroke-width="0.5"/>
<path d="M664.9,408.8 l6,-3.3 l2.2,2.6 l-6,3.3 z" fill="#9a9a9a" stroke="#1c1c1c" stroke-width="0.5"/>
<path d="M680.8,400 l6,-3.3 l2.2,2.6 l-6,3.3 z" fill="#9a9a9a" stroke="#1c1c1c" stroke-width="0.5"/>
<path d="M696.8,391.3 l6,-3.3 l2.2,2.6 l-6,3.3 z" fill="#9a9a9a" stroke="#1c1c1c" stroke-width="0.5"/>
<path d="M712.7,382.5 l6,-3.3 l2.2,2.6 l-6,3.3 z" fill="#9a9a9a" stroke="#1c1c1c" stroke-width="0.5"/>
<path d="M728.7,373.8 l6,-3.3 l2.2,2.6 l-6,3.3 z" fill="#9a9a9a" stroke="#1c1c1c" stroke-width="0.5"/>
<line x1="508.9" y1="447.8" x2="513.9" y2="445.2" stroke="#1c1c1c" stroke-width="1.8" />
<path d="M629.7,521.6 l8.6,-5 l1.4,2 l0,1.6 l-8.6,5 l-1.4,-2 z" fill="#f0f0f0" stroke="#1c1c1c" stroke-width="0.8"/>
<path d="M629.7,521.6 l1.4,2 l8.6,-5" fill="none" stroke="#1c1c1c" stroke-width="0.7"/>
<line x1="524" y1="439.9" x2="529" y2="437.3" stroke="#1c1c1c" stroke-width="1.8" />
<path d="M645.9,510.6 l8.6,-5 l1.4,2 l0,1.6 l-8.6,5 l-1.4,-2 z" fill="#f0f0f0" stroke="#1c1c1c" stroke-width="0.8"/>
<path d="M645.9,510.6 l1.4,2 l8.6,-5" fill="none" stroke="#1c1c1c" stroke-width="0.7"/>
<line x1="539.1" y1="432.1" x2="544.1" y2="429.5" stroke="#1c1c1c" stroke-width="1.8" />
<path d="M662.1,499.5 l8.6,-5 l1.4,2 l0,1.6 l-8.6,5 l-1.4,-2 z" fill="#f0f0f0" stroke="#1c1c1c" stroke-width="0.8"/>
<path d="M662.1,499.5 l1.4,2 l8.6,-5" fill="none" stroke="#1c1c1c" stroke-width="0.7"/>
<line x1="554.2" y1="424.2" x2="559.2" y2="421.6" stroke="#1c1c1c" stroke-width="1.8" />
<path d="M678.3,488.5 l8.6,-5 l1.4,2 l0,1.6 l-8.6,5 l-1.4,-2 z" fill="#f0f0f0" stroke="#1c1c1c" stroke-width="0.8"/>
<path d="M678.3,488.5 l1.4,2 l8.6,-5" fill="none" stroke="#1c1c1c" stroke-width="0.7"/>
<line x1="569.4" y1="416.3" x2="574.4" y2="413.7" stroke="#1c1c1c" stroke-width="1.8" />
<path d="M694.5,477.5 l8.6,-5 l1.4,2 l0,1.6 l-8.6,5 l-1.4,-2 z" fill="#f0f0f0" stroke="#1c1c1c" stroke-width="0.8"/>
<path d="M694.5,477.5 l1.4,2 l8.6,-5" fill="none" stroke="#1c1c1c" stroke-width="0.7"/>
<line x1="584.5" y1="408.5" x2="589.5" y2="405.9" stroke="#1c1c1c" stroke-width="1.8" />
<path d="M710.7,466.5 l8.6,-5 l1.4,2 l0,1.6 l-8.6,5 l-1.4,-2 z" fill="#f0f0f0" stroke="#1c1c1c" stroke-width="0.8"/>
<path d="M710.7,466.5 l1.4,2 l8.6,-5" fill="none" stroke="#1c1c1c" stroke-width="0.7"/>
<line x1="599.6" y1="400.6" x2="604.6" y2="398" stroke="#1c1c1c" stroke-width="1.8" />
<path d="M726.9,455.4 l8.6,-5 l1.4,2 l0,1.6 l-8.6,5 l-1.4,-2 z" fill="#f0f0f0" stroke="#1c1c1c" stroke-width="0.8"/>
<path d="M726.9,455.4 l1.4,2 l8.6,-5" fill="none" stroke="#1c1c1c" stroke-width="0.7"/>
<line x1="614.7" y1="392.8" x2="619.7" y2="390.2" stroke="#1c1c1c" stroke-width="1.8" />
<path d="M743.1,444.4 l8.6,-5 l1.4,2 l0,1.6 l-8.6,5 l-1.4,-2 z" fill="#f0f0f0" stroke="#1c1c1c" stroke-width="0.8"/>
<path d="M743.1,444.4 l1.4,2 l8.6,-5" fill="none" stroke="#1c1c1c" stroke-width="0.7"/>
<line x1="629.9" y1="384.9" x2="634.9" y2="382.3" stroke="#1c1c1c" stroke-width="1.8" />
<path d="M759.3,433.4 l8.6,-5 l1.4,2 l0,1.6 l-8.6,5 l-1.4,-2 z" fill="#f0f0f0" stroke="#1c1c1c" stroke-width="0.8"/>
<path d="M759.3,433.4 l1.4,2 l8.6,-5" fill="none" stroke="#1c1c1c" stroke-width="0.7"/>
<line x1="645" y1="377" x2="650" y2="374.4" stroke="#1c1c1c" stroke-width="1.8" />
<path d="M775.5,422.4 l8.6,-5 l1.4,2 l0,1.6 l-8.6,5 l-1.4,-2 z" fill="#f0f0f0" stroke="#1c1c1c" stroke-width="0.8"/>
<path d="M775.5,422.4 l1.4,2 l8.6,-5" fill="none" stroke="#1c1c1c" stroke-width="0.7"/>
<line x1="660.1" y1="369.2" x2="665.1" y2="366.6" stroke="#1c1c1c" stroke-width="1.8" />
<path d="M791.7,411.3 l8.6,-5 l1.4,2 l0,1.6 l-8.6,5 l-1.4,-2 z" fill="#f0f0f0" stroke="#1c1c1c" stroke-width="0.8"/>
<path d="M791.7,411.3 l1.4,2 l8.6,-5" fill="none" stroke="#1c1c1c" stroke-width="0.7"/>
<line x1="675.2" y1="361.3" x2="680.2" y2="358.7" stroke="#1c1c1c" stroke-width="1.8" />
<path d="M807.9,400.3 l8.6,-5 l1.4,2 l0,1.6 l-8.6,5 l-1.4,-2 z" fill="#f0f0f0" stroke="#1c1c1c" stroke-width="0.8"/>
<path d="M807.9,400.3 l1.4,2 l8.6,-5" fill="none" stroke="#1c1c1c" stroke-width="0.7"/>
<path d="M499,450 L630,528 L630,546 L499.5,462 Z" stroke="#1c1c1c" stroke-width="1" fill="#fff" />
<path d="M630,528 L824,396 L825,407 L630,546 Z" stroke="#1c1c1c" stroke-width="1" fill="#fff" />
<path d="M502,449 L631.5,524 L821.5,394.5" stroke="#1c1c1c" stroke-width="0.8" fill="none" />
<path d="M499,450 L502,449" stroke="#1c1c1c" stroke-width="0.8" fill="none" />
<line x1="627.5" y1="529.5" x2="627.5" y2="545" stroke="#1c1c1c" stroke-width="0.8" />
<line x1="632.5" y1="527" x2="632.5" y2="544.5" stroke="#1c1c1c" stroke-width="0.8" />
<path d="M747,482.5 L756.7,482.5 L756.2,510 L755.6,532.3 L761.4,536.7 L748.9,546.4 L741.4,529.7 L747.6,531.8 L748.2,510 Z" stroke="#1d1d1b" stroke-width="0.4" fill="#1d1d1b" />
<path d="M566.4,553.3 L576.1,553.3 L575.8,580 L575.2,601.8 L581.1,606.7 L568.6,616.7 L561.7,600.6 L567.4,601.8 L567.8,580 Z" stroke="#1d1d1b" stroke-width="0.4" fill="#1d1d1b" />
<ellipse cx="547.5" cy="338" rx="63.5" ry="88.5" transform="rotate(4 547.5 338)" fill="#fff" stroke="#1c1c1c" stroke-width="1.35"/>
<path d="M573,420 L623.5,455.5 M557,422.5 C562,422 565,423 567.5,424.5 L623.5,456" stroke="#1c1c1c" stroke-width="1.25" fill="none" />
<clipPath id="cb6"><ellipse cx="547.5" cy="338" rx="63" ry="88" transform="rotate(4 547.5 338)"/></clipPath>
<g clip-path="url(#cb6)">
<line x1="500" y1="277.5" x2="565" y2="248" stroke="#1c1c1c" stroke-width="0.9" />
<line x1="490" y1="296" x2="580" y2="252.5" stroke="#1c1c1c" stroke-width="0.9" />
<line x1="488" y1="301.5" x2="585" y2="256" stroke="#1c1c1c" stroke-width="0.9" />
<line x1="486" y1="309" x2="590" y2="259.5" stroke="#1c1c1c" stroke-width="0.9" />
</g>
<line x1="545.2" y1="282.5" x2="545.2" y2="302" stroke="#555" stroke-width="1.0" stroke-dasharray="1.6 1.9" stroke-linecap="butt"/>
<path d="M525,312.2 C525.5,306.5 534,303.4 542.4,303.4 C551,303.4 559,306.4 559.6,312.8 C556,308.6 549,307 542.4,307 C535.5,307 529,308.4 525,312.2 Z" stroke="#111" stroke-width="0.5" fill="#111" />
<path d="M525,312.6 C525.4,316 530.5,318.4 535.8,318.8 L535.4,317 L539.4,319.6 L535.4,322.6 L535.6,320.8 C529.5,320.4 524.4,317.4 525,312.6 Z" stroke="#1c1c1c" stroke-width="0.8" fill="#fff" />
<path d="M559.6,313 C559.8,316.4 557.4,319 554.4,320.2 L554.2,316.6 C556.6,315.8 558.6,314.6 559.6,313 Z" stroke="#1c1c1c" stroke-width="0.8" fill="#fff" />
<path d="M542.9,317.5 L548.2,317.5 L548.2,338 L542.9,338 Z" stroke="#1c1c1c" stroke-width="0.8" fill="#fff" />
<line x1="542.3" y1="320.4" x2="548.8" y2="318.9" stroke="#1c1c1c" stroke-width="1.0" />
<line x1="542.3" y1="322.8" x2="548.8" y2="321.3" stroke="#1c1c1c" stroke-width="1.0" />
<line x1="542.3" y1="325.2" x2="548.8" y2="323.7" stroke="#1c1c1c" stroke-width="1.0" />
<line x1="542.3" y1="327.6" x2="548.8" y2="326.1" stroke="#1c1c1c" stroke-width="1.0" />
<line x1="542.3" y1="330" x2="548.8" y2="328.5" stroke="#1c1c1c" stroke-width="1.0" />
<line x1="542.3" y1="332.4" x2="548.8" y2="330.9" stroke="#1c1c1c" stroke-width="1.0" />
<line x1="542.3" y1="334.8" x2="548.8" y2="333.3" stroke="#1c1c1c" stroke-width="1.0" />
<line x1="542.3" y1="337.2" x2="548.8" y2="335.7" stroke="#1c1c1c" stroke-width="1.0" />
<ellipse cx="545.5" cy="317.3" rx="2.6" ry="1.3" fill="#fff" stroke="#1c1c1c" stroke-width="0.8"/>
<path d="M537.8,339 L537.8,411.6 A8.05,2.6 0 0 0 553.9,411.6 L553.9,339" stroke="#1c1c1c" stroke-width="1" fill="#fff" />
<ellipse cx="545.85" cy="339" rx="8.05" ry="2.8" fill="#fff" stroke="#1c1c1c" stroke-width="1"/>
<ellipse cx="545.5" cy="338.4" rx="4" ry="1.4" fill="#fff" stroke="#1c1c1c" stroke-width="0.7"/>
<line x1="539.3" y1="341.5" x2="539.3" y2="412.5" stroke="#888" stroke-width="0.5" />
<path d="M574.6,366.8 C571,352 570.6,340 572.4,327.2 L570,325.8 L574.2,322.6 L576.8,328.4 L574.8,327.8 C573.6,340 574,352 576.2,365 Z" stroke="#111" stroke-width="0.6" fill="#111" />
<path d="M693.3,820 L693.3,721.8 L723.3,735.3 C730,738 736,737 741,732.5" stroke="#1c1c1c" stroke-width="1" fill="none" />
<line x1="693.3" y1="721.8" x2="723.3" y2="735.3" stroke="#1c1c1c" stroke-width="1.5" />
<path d="M803.3,759.7 C806,766 809,772.5 815,775.5 L849.6,789.5 L849.6,893.3 L826.7,882.2" stroke="#1c1c1c" stroke-width="1" fill="none" />
<line x1="815" y1="775.5" x2="849.6" y2="789.5" stroke="#1c1c1c" stroke-width="1.5" />
<path d="M693.3,676 L849.6,744.4 L849.6,780 L693.3,711.6 Z" stroke="#1c1c1c" stroke-width="1" fill="#fff" />
<line x1="693.3" y1="676" x2="849.6" y2="744.4" stroke="#1c1c1c" stroke-width="1.8" />
<line x1="706.7" y1="717.5" x2="706.7" y2="727.5" stroke="#1c1c1c" stroke-width="0.8" />
<line x1="705.2" y1="716.9" x2="705.2" y2="727" stroke="#777" stroke-width="0.6" />
<line x1="837.8" y1="775" x2="837.8" y2="784.8" stroke="#1c1c1c" stroke-width="0.8" />
<line x1="839.3" y1="775.6" x2="839.3" y2="785.4" stroke="#777" stroke-width="0.6" />
<path d="M516.6,869.2 L693.3,793.3 L697.8,794.4 L697.8,802.2 L526,878" stroke="#1c1c1c" stroke-width="1" fill="#fff" />
<line x1="522" y1="871.8" x2="697.8" y2="794.4" stroke="#1c1c1c" stroke-width="0.9" />
<path d="M688.9,806.9 C712.4,809.5 729.7,815.1 741.2,823.8 L747.2,820.6 C735.7,811.9 718.5,806.4 695.1,803.9 Z" fill="#fff" stroke="none"/>
<path d="M688.9,806.9 C712.4,809.5 729.7,815.1 741.2,823.8 M747.2,820.6 C735.7,811.9 718.5,806.4 695.1,803.9" stroke="#1c1c1c" stroke-width="1.0" fill="none" />
<line x1="697.7" y1="808.1" x2="703.9" y2="805" stroke="#1c1c1c" stroke-width="0.9" />
<line x1="719.5" y1="813.1" x2="725.6" y2="809.9" stroke="#1c1c1c" stroke-width="0.9" />
<path d="M674.6,813.7 C698.4,816.5 715.9,822.2 727.5,831.2 L733.6,827.9 C722,819 704.6,813.3 680.9,810.7 Z" fill="#fff" stroke="none"/>
<path d="M674.6,813.7 C698.4,816.5 715.9,822.2 727.5,831.2 M733.6,827.9 C722,819 704.6,813.3 680.9,810.7" stroke="#1c1c1c" stroke-width="1.0" fill="none" />
<line x1="683.6" y1="814.9" x2="689.9" y2="811.9" stroke="#1c1c1c" stroke-width="0.9" />
<line x1="705.6" y1="820.1" x2="711.8" y2="816.9" stroke="#1c1c1c" stroke-width="0.9" />
<path d="M660.3,820.5 C684.4,823.4 702.1,829.4 713.9,838.6 L720,835.3 C708.3,826.1 690.7,820.2 666.7,817.4 Z" fill="#fff" stroke="none"/>
<path d="M660.3,820.5 C684.4,823.4 702.1,829.4 713.9,838.6 M720,835.3 C708.3,826.1 690.7,820.2 666.7,817.4" stroke="#1c1c1c" stroke-width="1.0" fill="none" />
<line x1="669.4" y1="821.8" x2="675.8" y2="818.7" stroke="#1c1c1c" stroke-width="0.9" />
<line x1="691.7" y1="827.2" x2="698" y2="824" stroke="#1c1c1c" stroke-width="0.9" />
<path d="M646.1,827.3 C670.4,830.4 688.3,836.5 700.2,846 L706.4,842.6 C694.6,833.2 676.8,827.1 652.6,824.2 Z" fill="#fff" stroke="none"/>
<path d="M646.1,827.3 C670.4,830.4 688.3,836.5 700.2,846 M706.4,842.6 C694.6,833.2 676.8,827.1 652.6,824.2" stroke="#1c1c1c" stroke-width="1.0" fill="none" />
<line x1="655.2" y1="828.6" x2="661.7" y2="825.5" stroke="#1c1c1c" stroke-width="0.9" />
<line x1="677.8" y1="834.2" x2="684.1" y2="831" stroke="#1c1c1c" stroke-width="0.9" />
<path d="M631.8,834.1 C656.4,837.3 674.5,843.7 686.5,853.4 L692.8,850 C680.9,840.3 662.9,834 638.4,831 Z" fill="#fff" stroke="none"/>
<path d="M631.8,834.1 C656.4,837.3 674.5,843.7 686.5,853.4 M692.8,850 C680.9,840.3 662.9,834 638.4,831" stroke="#1c1c1c" stroke-width="1.0" fill="none" />
<line x1="641.1" y1="835.5" x2="647.6" y2="832.3" stroke="#1c1c1c" stroke-width="0.9" />
<line x1="663.9" y1="841.3" x2="670.3" y2="838" stroke="#1c1c1c" stroke-width="0.9" />
<path d="M617.5,840.9 C642.4,844.3 660.7,850.8 672.9,860.8 L679.2,857.3 C667.1,847.4 649,841 624.2,837.7 Z" fill="#fff" stroke="none"/>
<path d="M617.5,840.9 C642.4,844.3 660.7,850.8 672.9,860.8 M679.2,857.3 C667.1,847.4 649,841 624.2,837.7" stroke="#1c1c1c" stroke-width="1.0" fill="none" />
<line x1="626.9" y1="842.4" x2="633.5" y2="839.2" stroke="#1c1c1c" stroke-width="0.9" />
<line x1="650" y1="848.4" x2="656.5" y2="845" stroke="#1c1c1c" stroke-width="0.9" />
<path d="M603.3,847.7 C628.4,851.2 646.9,858 659.2,868.2 L665.7,864.7 C653.4,854.5 635,847.9 610,844.5 Z" fill="#fff" stroke="none"/>
<path d="M603.3,847.7 C628.4,851.2 646.9,858 659.2,868.2 M665.7,864.7 C653.4,854.5 635,847.9 610,844.5" stroke="#1c1c1c" stroke-width="1.0" fill="none" />
<line x1="612.8" y1="849.2" x2="619.4" y2="846" stroke="#1c1c1c" stroke-width="0.9" />
<line x1="636.1" y1="855.4" x2="642.6" y2="852.1" stroke="#1c1c1c" stroke-width="0.9" />
<path d="M589,854.5 C614.5,858.2 633.1,865.1 645.6,875.6 L652.1,872 C639.7,861.6 621.1,854.8 595.8,851.3 Z" fill="#fff" stroke="none"/>
<path d="M589,854.5 C614.5,858.2 633.1,865.1 645.6,875.6 M652.1,872 C639.7,861.6 621.1,854.8 595.8,851.3" stroke="#1c1c1c" stroke-width="1.0" fill="none" />
<line x1="598.6" y1="856.1" x2="605.3" y2="852.8" stroke="#1c1c1c" stroke-width="0.9" />
<line x1="622.2" y1="862.5" x2="628.8" y2="859.1" stroke="#1c1c1c" stroke-width="0.9" />
<path d="M574.7,861.3 C600.5,865.1 619.3,872.3 631.9,883 L638.5,879.4 C626,868.8 607.2,861.7 581.6,858 Z" fill="#fff" stroke="none"/>
<path d="M574.7,861.3 C600.5,865.1 619.3,872.3 631.9,883 M638.5,879.4 C626,868.8 607.2,861.7 581.6,858" stroke="#1c1c1c" stroke-width="1.0" fill="none" />
<line x1="584.4" y1="863" x2="591.3" y2="859.6" stroke="#1c1c1c" stroke-width="0.9" />
<line x1="608.2" y1="869.5" x2="615" y2="866.1" stroke="#1c1c1c" stroke-width="0.9" />
<path d="M560.5,868.1 C586.5,872.1 605.5,879.4 618.2,890.4 L624.9,886.8 C612.3,875.9 593.3,868.6 567.4,864.8 Z" fill="#fff" stroke="none"/>
<path d="M560.5,868.1 C586.5,872.1 605.5,879.4 618.2,890.4 M624.9,886.8 C612.3,875.9 593.3,868.6 567.4,864.8" stroke="#1c1c1c" stroke-width="1.0" fill="none" />
<line x1="570.3" y1="869.8" x2="577.2" y2="866.4" stroke="#1c1c1c" stroke-width="0.9" />
<line x1="594.3" y1="876.6" x2="601.1" y2="873.1" stroke="#1c1c1c" stroke-width="0.9" />
<path d="M546.2,874.9 C572.5,879 591.7,886.6 604.6,897.8 L611.3,894.1 C598.5,883 579.4,875.5 553.3,871.5 Z" fill="#fff" stroke="none"/>
<path d="M546.2,874.9 C572.5,879 591.7,886.6 604.6,897.8 M611.3,894.1 C598.5,883 579.4,875.5 553.3,871.5" stroke="#1c1c1c" stroke-width="1.0" fill="none" />
<line x1="556.1" y1="876.7" x2="563.1" y2="873.3" stroke="#1c1c1c" stroke-width="0.9" />
<line x1="580.4" y1="883.7" x2="587.3" y2="880.1" stroke="#1c1c1c" stroke-width="0.9" />
<path d="M532,881.7 C558.5,886 577.9,893.7 590.9,905.2 L597.7,901.5 C584.8,890.1 565.5,882.4 539.1,878.3 Z" fill="#fff" stroke="none"/>
<path d="M532,881.7 C558.5,886 577.9,893.7 590.9,905.2 M597.7,901.5 C584.8,890.1 565.5,882.4 539.1,878.3" stroke="#1c1c1c" stroke-width="1.0" fill="none" />
<line x1="541.9" y1="883.5" x2="549" y2="880.1" stroke="#1c1c1c" stroke-width="0.9" />
<line x1="566.5" y1="890.7" x2="573.5" y2="887.2" stroke="#1c1c1c" stroke-width="0.9" />
<path d="M711,849 L711,882 L718,882 L718,851" stroke="#555" stroke-width="0.7" fill="none" />
<path d="M713,876 L713,883 L716.5,883 L716.5,876" stroke="#1c1c1c" stroke-width="0.7" fill="none" />
<path d="M746.5,827.2 C772.6,829.3 796,839.3 815.3,856.5 L820.8,852.8 C801.5,835.8 778.1,826.1 751.9,824.2 Z" fill="#fff" stroke="none"/>
<path d="M746.5,827.2 C772.6,829.3 796,839.3 815.3,856.5 M820.8,852.8 C801.5,835.8 778.1,826.1 751.9,824.2" stroke="#1c1c1c" stroke-width="1.0" fill="none" />
<line x1="761.8" y1="829.4" x2="767.3" y2="826.3" stroke="#1c1c1c" stroke-width="0.9" />
<path d="M732.8,834.6 C759,836.9 782.3,847.5 801.3,865.8 L807,862 C787.9,843.9 764.6,833.6 738.3,831.6 Z" fill="#fff" stroke="none"/>
<path d="M732.8,834.6 C759,836.9 782.3,847.5 801.3,865.8 M807,862 C787.9,843.9 764.6,833.6 738.3,831.6" stroke="#1c1c1c" stroke-width="1.0" fill="none" />
<line x1="748.1" y1="837" x2="753.8" y2="833.8" stroke="#1c1c1c" stroke-width="0.9" />
<path d="M719.1,842.1 C745.4,844.5 768.5,855.7 787.3,875.1 L793.1,871.2 C774.3,852.1 751.2,841.1 724.8,839 Z" fill="#fff" stroke="none"/>
<path d="M719.1,842.1 C745.4,844.5 768.5,855.7 787.3,875.1 M793.1,871.2 C774.3,852.1 751.2,841.1 724.8,839" stroke="#1c1c1c" stroke-width="1.0" fill="none" />
<line x1="734.5" y1="844.6" x2="740.2" y2="841.3" stroke="#1c1c1c" stroke-width="0.9" />
<path d="M705.4,849.5 C731.8,852.2 754.8,864 773.3,884.4 L779.3,880.4 C760.7,860.2 737.7,848.7 711.2,846.4 Z" fill="#fff" stroke="none"/>
<path d="M705.4,849.5 C731.8,852.2 754.8,864 773.3,884.4 M779.3,880.4 C760.7,860.2 737.7,848.7 711.2,846.4" stroke="#1c1c1c" stroke-width="1.0" fill="none" />
<line x1="720.8" y1="852.2" x2="726.7" y2="848.9" stroke="#1c1c1c" stroke-width="0.9" />
<path d="M691.7,857 C718.2,859.8 741.1,872.2 759.3,893.6 L765.4,889.6 C747.1,868.4 724.2,856.3 697.7,853.8 Z" fill="#fff" stroke="none"/>
<path d="M691.7,857 C718.2,859.8 741.1,872.2 759.3,893.6 M765.4,889.6 C747.1,868.4 724.2,856.3 697.7,853.8" stroke="#1c1c1c" stroke-width="1.0" fill="none" />
<line x1="707.2" y1="859.8" x2="713.1" y2="856.4" stroke="#1c1c1c" stroke-width="0.9" />
<path d="M678,864.4 C704.6,867.5 727.3,880.4 745.4,902.9 L751.6,898.8 C733.5,876.5 710.7,863.8 684.1,861.1 Z" fill="#fff" stroke="none"/>
<path d="M678,864.4 C704.6,867.5 727.3,880.4 745.4,902.9 M751.6,898.8 C733.5,876.5 710.7,863.8 684.1,861.1" stroke="#1c1c1c" stroke-width="1.0" fill="none" />
<line x1="693.5" y1="867.4" x2="699.6" y2="864" stroke="#1c1c1c" stroke-width="0.9" />
<path d="M664.3,871.9 C691,875.1 713.6,888.7 731.4,912.2 L737.7,908 C719.9,884.7 697.3,871.4 670.5,868.5 Z" fill="#fff" stroke="none"/>
<path d="M664.3,871.9 C691,875.1 713.6,888.7 731.4,912.2 M737.7,908 C719.9,884.7 697.3,871.4 670.5,868.5" stroke="#1c1c1c" stroke-width="1.0" fill="none" />
<line x1="679.9" y1="875.1" x2="686.1" y2="871.5" stroke="#1c1c1c" stroke-width="0.9" />
<path d="M650.7,879.3 C677.4,882.8 699.9,897 717.4,921.5 L723.9,917.2 C706.3,892.9 683.8,879 657,875.9 Z" fill="#fff" stroke="none"/>
<path d="M650.7,879.3 C677.4,882.8 699.9,897 717.4,921.5 M723.9,917.2 C706.3,892.9 683.8,879 657,875.9" stroke="#1c1c1c" stroke-width="1.0" fill="none" />
<line x1="666.2" y1="882.7" x2="672.5" y2="879.1" stroke="#1c1c1c" stroke-width="0.9" />
<path d="M637,886.8 C663.8,890.5 686.1,905.3 703.4,930.8 L710,926.4 C692.7,901.1 670.3,886.6 643.4,883.3 Z" fill="#fff" stroke="none"/>
<path d="M637,886.8 C663.8,890.5 686.1,905.3 703.4,930.8 M710,926.4 C692.7,901.1 670.3,886.6 643.4,883.3" stroke="#1c1c1c" stroke-width="1.0" fill="none" />
<line x1="652.5" y1="890.3" x2="659" y2="886.6" stroke="#1c1c1c" stroke-width="0.9" />
<path d="M641,893 L641,922 L647,922 L647,894" stroke="#555" stroke-width="0.7" fill="none" />
<path d="M642.5,917 L642.5,924 L646,924 L646,917" stroke="#1c1c1c" stroke-width="0.7" fill="none" />
<path d="M623.3,894.2 C650.2,898.2 672.4,913.5 689.4,940.1 L696.1,935.6 C679,909.3 656.8,894.2 629.8,890.7 Z" fill="#fff" stroke="none"/>
<path d="M623.3,894.2 C650.2,898.2 672.4,913.5 689.4,940.1 M696.1,935.6 C679,909.3 656.8,894.2 629.8,890.7" stroke="#1c1c1c" stroke-width="1.0" fill="none" />
<line x1="638.9" y1="898" x2="645.5" y2="894.2" stroke="#1c1c1c" stroke-width="0.9" />
<path d="M609.6,901.7 C636.6,905.9 658.6,921.8 675.5,949.4 L682.3,944.9 C665.4,917.5 643.3,901.9 616.3,898.1 Z" fill="#fff" stroke="none"/>
<path d="M609.6,901.7 C636.6,905.9 658.6,921.8 675.5,949.4 M682.3,944.9 C665.4,917.5 643.3,901.9 616.3,898.1" stroke="#1c1c1c" stroke-width="1.0" fill="none" />
<line x1="625.2" y1="905.6" x2="631.9" y2="901.8" stroke="#1c1c1c" stroke-width="0.9" />
<path d="M595.9,909.1 C623,913.6 644.9,930.2 661.5,958.7 L668.4,954.1 C651.8,925.8 629.9,909.5 602.7,905.4 Z" fill="#fff" stroke="none"/>
<path d="M595.9,909.1 C623,913.6 644.9,930.2 661.5,958.7 M668.4,954.1 C651.8,925.8 629.9,909.5 602.7,905.4" stroke="#1c1c1c" stroke-width="1.0" fill="none" />
<line x1="611.5" y1="913.3" x2="618.4" y2="909.3" stroke="#1c1c1c" stroke-width="0.9" />
<rect x="-4.6" y="-1.7" width="9.2" height="3.4" rx="1.2" transform="translate(594.8,903.8) rotate(-28)" fill="#d4d4d4" stroke="#1c1c1c" stroke-width="0.9"/>
<line x1="-3" y1="0" x2="3" y2="0" transform="translate(594.8,903.8) rotate(-28)" stroke="#666" stroke-width="0.6"/>
<rect x="-4.6" y="-1.7" width="9.2" height="3.4" rx="1.2" transform="translate(598.2,906.7) rotate(-28)" fill="#d4d4d4" stroke="#1c1c1c" stroke-width="0.9"/>
<line x1="-3" y1="0" x2="3" y2="0" transform="translate(598.2,906.7) rotate(-28)" stroke="#666" stroke-width="0.6"/>
<rect x="-4.6" y="-1.7" width="9.2" height="3.4" rx="1.2" transform="translate(608.5,896.4) rotate(-28)" fill="#d4d4d4" stroke="#1c1c1c" stroke-width="0.9"/>
<line x1="-3" y1="0" x2="3" y2="0" transform="translate(608.5,896.4) rotate(-28)" stroke="#666" stroke-width="0.6"/>
<rect x="-4.6" y="-1.7" width="9.2" height="3.4" rx="1.2" transform="translate(611.9,899.3) rotate(-28)" fill="#d4d4d4" stroke="#1c1c1c" stroke-width="0.9"/>
<line x1="-3" y1="0" x2="3" y2="0" transform="translate(611.9,899.3) rotate(-28)" stroke="#666" stroke-width="0.6"/>
<rect x="-4.6" y="-1.7" width="9.2" height="3.4" rx="1.2" transform="translate(622.1,889) rotate(-28)" fill="#d4d4d4" stroke="#1c1c1c" stroke-width="0.9"/>
<line x1="-3" y1="0" x2="3" y2="0" transform="translate(622.1,889) rotate(-28)" stroke="#666" stroke-width="0.6"/>
<rect x="-4.6" y="-1.7" width="9.2" height="3.4" rx="1.2" transform="translate(625.5,891.9) rotate(-28)" fill="#d4d4d4" stroke="#1c1c1c" stroke-width="0.9"/>
<line x1="-3" y1="0" x2="3" y2="0" transform="translate(625.5,891.9) rotate(-28)" stroke="#666" stroke-width="0.6"/>
<rect x="-4.6" y="-1.7" width="9.2" height="3.4" rx="1.2" transform="translate(635.7,881.6) rotate(-28)" fill="#d4d4d4" stroke="#1c1c1c" stroke-width="0.9"/>
<line x1="-3" y1="0" x2="3" y2="0" transform="translate(635.7,881.6) rotate(-28)" stroke="#666" stroke-width="0.6"/>
<rect x="-4.6" y="-1.7" width="9.2" height="3.4" rx="1.2" transform="translate(639.1,884.5) rotate(-28)" fill="#d4d4d4" stroke="#1c1c1c" stroke-width="0.9"/>
<line x1="-3" y1="0" x2="3" y2="0" transform="translate(639.1,884.5) rotate(-28)" stroke="#666" stroke-width="0.6"/>
<rect x="-4.6" y="-1.7" width="9.2" height="3.4" rx="1.2" transform="translate(649.4,874.2) rotate(-28)" fill="#d4d4d4" stroke="#1c1c1c" stroke-width="0.9"/>
<line x1="-3" y1="0" x2="3" y2="0" transform="translate(649.4,874.2) rotate(-28)" stroke="#666" stroke-width="0.6"/>
<rect x="-4.6" y="-1.7" width="9.2" height="3.4" rx="1.2" transform="translate(652.8,877.1) rotate(-28)" fill="#d4d4d4" stroke="#1c1c1c" stroke-width="0.9"/>
<line x1="-3" y1="0" x2="3" y2="0" transform="translate(652.8,877.1) rotate(-28)" stroke="#666" stroke-width="0.6"/>
<rect x="-4.6" y="-1.7" width="9.2" height="3.4" rx="1.2" transform="translate(663,866.8) rotate(-28)" fill="#d4d4d4" stroke="#1c1c1c" stroke-width="0.9"/>
<line x1="-3" y1="0" x2="3" y2="0" transform="translate(663,866.8) rotate(-28)" stroke="#666" stroke-width="0.6"/>
<rect x="-4.6" y="-1.7" width="9.2" height="3.4" rx="1.2" transform="translate(666.4,869.7) rotate(-28)" fill="#d4d4d4" stroke="#1c1c1c" stroke-width="0.9"/>
<line x1="-3" y1="0" x2="3" y2="0" transform="translate(666.4,869.7) rotate(-28)" stroke="#666" stroke-width="0.6"/>
<rect x="-4.6" y="-1.7" width="9.2" height="3.4" rx="1.2" transform="translate(676.7,859.4) rotate(-28)" fill="#d4d4d4" stroke="#1c1c1c" stroke-width="0.9"/>
<line x1="-3" y1="0" x2="3" y2="0" transform="translate(676.7,859.4) rotate(-28)" stroke="#666" stroke-width="0.6"/>
<rect x="-4.6" y="-1.7" width="9.2" height="3.4" rx="1.2" transform="translate(680.1,862.3) rotate(-28)" fill="#d4d4d4" stroke="#1c1c1c" stroke-width="0.9"/>
<line x1="-3" y1="0" x2="3" y2="0" transform="translate(680.1,862.3) rotate(-28)" stroke="#666" stroke-width="0.6"/>
<rect x="-4.6" y="-1.7" width="9.2" height="3.4" rx="1.2" transform="translate(690.3,852) rotate(-28)" fill="#d4d4d4" stroke="#1c1c1c" stroke-width="0.9"/>
<line x1="-3" y1="0" x2="3" y2="0" transform="translate(690.3,852) rotate(-28)" stroke="#666" stroke-width="0.6"/>
<rect x="-4.6" y="-1.7" width="9.2" height="3.4" rx="1.2" transform="translate(693.7,854.9) rotate(-28)" fill="#d4d4d4" stroke="#1c1c1c" stroke-width="0.9"/>
<line x1="-3" y1="0" x2="3" y2="0" transform="translate(693.7,854.9) rotate(-28)" stroke="#666" stroke-width="0.6"/>
<rect x="-4.6" y="-1.7" width="9.2" height="3.4" rx="1.2" transform="translate(704,844.6) rotate(-28)" fill="#d4d4d4" stroke="#1c1c1c" stroke-width="0.9"/>
<line x1="-3" y1="0" x2="3" y2="0" transform="translate(704,844.6) rotate(-28)" stroke="#666" stroke-width="0.6"/>
<rect x="-4.6" y="-1.7" width="9.2" height="3.4" rx="1.2" transform="translate(707.4,847.5) rotate(-28)" fill="#d4d4d4" stroke="#1c1c1c" stroke-width="0.9"/>
<line x1="-3" y1="0" x2="3" y2="0" transform="translate(707.4,847.5) rotate(-28)" stroke="#666" stroke-width="0.6"/>
<rect x="-4.6" y="-1.7" width="9.2" height="3.4" rx="1.2" transform="translate(717.6,837.2) rotate(-28)" fill="#d4d4d4" stroke="#1c1c1c" stroke-width="0.9"/>
<line x1="-3" y1="0" x2="3" y2="0" transform="translate(717.6,837.2) rotate(-28)" stroke="#666" stroke-width="0.6"/>
<rect x="-4.6" y="-1.7" width="9.2" height="3.4" rx="1.2" transform="translate(721,840.1) rotate(-28)" fill="#d4d4d4" stroke="#1c1c1c" stroke-width="0.9"/>
<line x1="-3" y1="0" x2="3" y2="0" transform="translate(721,840.1) rotate(-28)" stroke="#666" stroke-width="0.6"/>
<rect x="-4.6" y="-1.7" width="9.2" height="3.4" rx="1.2" transform="translate(731.2,829.8) rotate(-28)" fill="#d4d4d4" stroke="#1c1c1c" stroke-width="0.9"/>
<line x1="-3" y1="0" x2="3" y2="0" transform="translate(731.2,829.8) rotate(-28)" stroke="#666" stroke-width="0.6"/>
<rect x="-4.6" y="-1.7" width="9.2" height="3.4" rx="1.2" transform="translate(734.6,832.7) rotate(-28)" fill="#d4d4d4" stroke="#1c1c1c" stroke-width="0.9"/>
<line x1="-3" y1="0" x2="3" y2="0" transform="translate(734.6,832.7) rotate(-28)" stroke="#666" stroke-width="0.6"/>
<rect x="-4.6" y="-1.7" width="9.2" height="3.4" rx="1.2" transform="translate(744.9,822.4) rotate(-28)" fill="#d4d4d4" stroke="#1c1c1c" stroke-width="0.9"/>
<line x1="-3" y1="0" x2="3" y2="0" transform="translate(744.9,822.4) rotate(-28)" stroke="#666" stroke-width="0.6"/>
<rect x="-4.6" y="-1.7" width="9.2" height="3.4" rx="1.2" transform="translate(748.3,825.3) rotate(-28)" fill="#d4d4d4" stroke="#1c1c1c" stroke-width="0.9"/>
<line x1="-3" y1="0" x2="3" y2="0" transform="translate(748.3,825.3) rotate(-28)" stroke="#666" stroke-width="0.6"/>
<line x1="528.4" y1="882.6" x2="699.1" y2="801.2" stroke="#1c1c1c" stroke-width="0.7" />
<rect x="-4.4" y="-1.7" width="8.8" height="3.4" rx="1.2" transform="translate(535.5,879) rotate(-25.5)" fill="#c8c8c8" stroke="#1c1c1c" stroke-width="0.95"/>
<line x1="-2.8" y1="0" x2="2.8" y2="0" transform="translate(535.5,879) rotate(-25.5)" stroke="#666" stroke-width="0.6"/>
<rect x="-4.4" y="-1.7" width="8.8" height="3.4" rx="1.2" transform="translate(549.7,872.2) rotate(-25.5)" fill="#c8c8c8" stroke="#1c1c1c" stroke-width="0.95"/>
<line x1="-2.8" y1="0" x2="2.8" y2="0" transform="translate(549.7,872.2) rotate(-25.5)" stroke="#666" stroke-width="0.6"/>
<rect x="-4.4" y="-1.7" width="8.8" height="3.4" rx="1.2" transform="translate(564,865.4) rotate(-25.5)" fill="#c8c8c8" stroke="#1c1c1c" stroke-width="0.95"/>
<line x1="-2.8" y1="0" x2="2.8" y2="0" transform="translate(564,865.4) rotate(-25.5)" stroke="#666" stroke-width="0.6"/>
<rect x="-4.4" y="-1.7" width="8.8" height="3.4" rx="1.2" transform="translate(578.2,858.7) rotate(-25.5)" fill="#c8c8c8" stroke="#1c1c1c" stroke-width="0.95"/>
<line x1="-2.8" y1="0" x2="2.8" y2="0" transform="translate(578.2,858.7) rotate(-25.5)" stroke="#666" stroke-width="0.6"/>
<rect x="-4.4" y="-1.7" width="8.8" height="3.4" rx="1.2" transform="translate(592.4,851.9) rotate(-25.5)" fill="#c8c8c8" stroke="#1c1c1c" stroke-width="0.95"/>
<line x1="-2.8" y1="0" x2="2.8" y2="0" transform="translate(592.4,851.9) rotate(-25.5)" stroke="#666" stroke-width="0.6"/>
<rect x="-4.4" y="-1.7" width="8.8" height="3.4" rx="1.2" transform="translate(606.6,845.1) rotate(-25.5)" fill="#c8c8c8" stroke="#1c1c1c" stroke-width="0.95"/>
<line x1="-2.8" y1="0" x2="2.8" y2="0" transform="translate(606.6,845.1) rotate(-25.5)" stroke="#666" stroke-width="0.6"/>
<rect x="-4.4" y="-1.7" width="8.8" height="3.4" rx="1.2" transform="translate(620.9,838.3) rotate(-25.5)" fill="#c8c8c8" stroke="#1c1c1c" stroke-width="0.95"/>
<line x1="-2.8" y1="0" x2="2.8" y2="0" transform="translate(620.9,838.3) rotate(-25.5)" stroke="#666" stroke-width="0.6"/>
<rect x="-4.4" y="-1.7" width="8.8" height="3.4" rx="1.2" transform="translate(635.1,831.5) rotate(-25.5)" fill="#c8c8c8" stroke="#1c1c1c" stroke-width="0.95"/>
<line x1="-2.8" y1="0" x2="2.8" y2="0" transform="translate(635.1,831.5) rotate(-25.5)" stroke="#666" stroke-width="0.6"/>
<rect x="-4.4" y="-1.7" width="8.8" height="3.4" rx="1.2" transform="translate(649.3,824.7) rotate(-25.5)" fill="#c8c8c8" stroke="#1c1c1c" stroke-width="0.95"/>
<line x1="-2.8" y1="0" x2="2.8" y2="0" transform="translate(649.3,824.7) rotate(-25.5)" stroke="#666" stroke-width="0.6"/>
<rect x="-4.4" y="-1.7" width="8.8" height="3.4" rx="1.2" transform="translate(663.5,818) rotate(-25.5)" fill="#c8c8c8" stroke="#1c1c1c" stroke-width="0.95"/>
<line x1="-2.8" y1="0" x2="2.8" y2="0" transform="translate(663.5,818) rotate(-25.5)" stroke="#666" stroke-width="0.6"/>
<rect x="-4.4" y="-1.7" width="8.8" height="3.4" rx="1.2" transform="translate(677.8,811.2) rotate(-25.5)" fill="#c8c8c8" stroke="#1c1c1c" stroke-width="0.95"/>
<line x1="-2.8" y1="0" x2="2.8" y2="0" transform="translate(677.8,811.2) rotate(-25.5)" stroke="#666" stroke-width="0.6"/>
<rect x="-4.4" y="-1.7" width="8.8" height="3.4" rx="1.2" transform="translate(692,804.4) rotate(-25.5)" fill="#c8c8c8" stroke="#1c1c1c" stroke-width="0.95"/>
<line x1="-2.8" y1="0" x2="2.8" y2="0" transform="translate(692,804.4) rotate(-25.5)" stroke="#666" stroke-width="0.6"/>
<path d="M656,957.5 L840,835.6 L845.6,836.2 L660.3,963 Z" stroke="#1c1c1c" stroke-width="1" fill="#fff" />
<path d="M660.3,963 L845.6,836.2 L846.7,868.9 L661,1003.3 Z" stroke="#1c1c1c" stroke-width="1" fill="#fff" />
<path d="M516.6,869.2 L660.3,963 L660.3,981 L515,887.5 Z" stroke="#1c1c1c" stroke-width="1" fill="#fff" />
<path d="M515,887.5 L660.3,981 L660.3,1011.7 L515.5,917 Z" stroke="#1c1c1c" stroke-width="1" fill="#fff" />
<path d="M522,871.8 L656,957.5" stroke="#1c1c1c" stroke-width="0.9" fill="none" />
<line x1="515" y1="887.5" x2="660.3" y2="981" stroke="#1c1c1c" stroke-width="1.7" />
<line x1="779" y1="862.5" x2="808.7" y2="874" stroke="#1c1c1c" stroke-width="0.7" />
<path d="M742,838 C760,842 772,852 786,866" stroke="#1c1c1c" stroke-width="1.0" fill="none" />
<path d="M490,698 C470,730 465,780 490,815 C515,850 560,855 585,825 C592,817 597,808 599.4,803.3 C607,807 612.5,822 613.9,845.6 C618,832 616.5,808 606.1,782.2 C622,735 600,670 560,655 C540,648 520,652 511,660" stroke="#1c1c1c" stroke-width="1.3" fill="#fff" />
<line x1="573" y1="691.4" x2="603" y2="702" stroke="#1c1c1c" stroke-width="0.9" />
<line x1="580.8" y1="746" x2="609.5" y2="757" stroke="#1c1c1c" stroke-width="0.9" />
<g transform="translate(541,757) rotate(-22)">
<path d="M2,-8 L9,-3 L37,-2.4 L39,0 L37,2.4 L9,3 L2,8 Z" fill="#fff" stroke="#1c1c1c" stroke-width="0.8"/>
<path d="M11,-5.0 C13.4,-3.0 14.2,2.0 13.4,5.0" fill="none" stroke="#1c1c1c" stroke-width="1.35"/>
<path d="M11,-5.0 l2.2,0.6 M13.4,5.0 l1.8,-0.6" stroke="#1c1c1c" stroke-width="0.8"/>
<path d="M15,-4.8 C17.4,-2.88 18.2,1.92 17.4,4.8" fill="none" stroke="#1c1c1c" stroke-width="1.35"/>
<path d="M15,-4.8 l2.2,0.6 M17.4,4.8 l1.8,-0.6" stroke="#1c1c1c" stroke-width="0.8"/>
<path d="M19,-4.6 C21.4,-2.76 22.2,1.8399999999999999 21.4,4.6" fill="none" stroke="#1c1c1c" stroke-width="1.35"/>
<path d="M19,-4.6 l2.2,0.6 M21.4,4.6 l1.8,-0.6" stroke="#1c1c1c" stroke-width="0.8"/>
<path d="M23,-4.4 C25.4,-2.64 26.2,1.7600000000000002 25.4,4.4" fill="none" stroke="#1c1c1c" stroke-width="1.35"/>
<path d="M23,-4.4 l2.2,0.6 M25.4,4.4 l1.8,-0.6" stroke="#1c1c1c" stroke-width="0.8"/>
<path d="M27,-4.2 C29.4,-2.52 30.2,1.6800000000000002 29.4,4.2" fill="none" stroke="#1c1c1c" stroke-width="1.35"/>
<path d="M27,-4.2 l2.2,0.6 M29.4,4.2 l1.8,-0.6" stroke="#1c1c1c" stroke-width="0.8"/>
<path d="M31,-4.0 C33.4,-2.4 34.2,1.6 33.4,4.0" fill="none" stroke="#1c1c1c" stroke-width="1.35"/>
<path d="M31,-4.0 l2.2,0.6 M33.4,4.0 l1.8,-0.6" stroke="#1c1c1c" stroke-width="0.8"/>
<path d="M35,-3.8 C37.4,-2.28 38.2,1.52 37.4,3.8" fill="none" stroke="#1c1c1c" stroke-width="1.35"/>
<path d="M35,-3.8 l2.2,0.6 M37.4,3.8 l1.8,-0.6" stroke="#1c1c1c" stroke-width="0.8"/>
<ellipse cx="0" cy="0" rx="5.2" ry="11.5" transform="rotate(8)" fill="#fff" stroke="#1c1c1c" stroke-width="1.05"/>
<ellipse cx="-1" cy="0" rx="3.6" ry="9" transform="rotate(8)" fill="none" stroke="#1c1c1c" stroke-width="0.6"/>
<path d="M-3.4,-0.4 L1.4,0.4 M-1.6,-4 L-0.6,4 M-2.8,-2.6 L0.6,2.8 M0.4,-2.8 L-2.6,2.8" stroke="#1c1c1c" stroke-width="0.7"/>
</g>
<line x1="580.8" y1="740.7" x2="594.8" y2="735.2" stroke="#1c1c1c" stroke-width="0.9" stroke-dasharray="4 2.4"/>
<ellipse cx="599" cy="733.7" rx="2.5" ry="3.9" transform="rotate(8 599 733.7)" fill="#fff" stroke="#1c1c1c" stroke-width="0.8"/>
<line x1="485" y1="774" x2="518.5" y2="760" stroke="#1c1c1c" stroke-width="0.95" />
<line x1="488.2" y1="787.3" x2="514.7" y2="776.4" stroke="#1c1c1c" stroke-width="0.95" />
<path d="M518.5,760 L521,759 L524.5,770.5 L521.7,772.5 L514.7,776.4 M521,759 L527.5,757.5 L534.3,759.8 L528.5,766.5 L524.5,770.5" stroke="#1c1c1c" stroke-width="0.95" fill="none" />
<path d="M527.5,757.5 L528.5,766.5 L534.3,759.8 Z" stroke="#1c1c1c" stroke-width="0.6" fill="#333" />
<path d="M522.3,763.5 L526.8,762 M523.3,767 L527.8,765.2" stroke="#1c1c1c" stroke-width="0.7" fill="none" />
<ellipse cx="506.9" cy="771" rx="9.2" ry="25" transform="rotate(-4 506.9 771)" fill="none" stroke="#1c1c1c" stroke-width="0.8"/>
<ellipse cx="507.4" cy="771" rx="7.6" ry="23" transform="rotate(-4 507.4 771)" fill="none" stroke="#1c1c1c" stroke-width="0.6"/>
<path d="M500.5,747 C506,743.5 511.5,750 512.3,762" stroke="#111" stroke-width="3" fill="none" />
<path d="M505.6,758.6 L512.4,768.4 L515.6,756.2 Z" stroke="#111" stroke-width="0.5" fill="#111" />
<path d="M515.2,774 C516.8,782 514.6,791 510.2,794.4" stroke="#111" stroke-width="3" fill="none" />
<text transform="translate(44.2,497.8) scale(0.68,1)" font-size="38.4" font-weight="700" fill="#1d1d1b">5</text>
<text transform="translate(458.8,250.8) scale(0.79,1)" font-size="37.7" font-weight="700" fill="#1d1d1b">6</text>
<text transform="translate(484.7,608) scale(0.76,1)" font-size="36.3" font-weight="700" fill="#1d1d1b">7</text>
<text transform="translate(320.6,487.4) scale(0.7,1)" font-size="24.2" font-weight="400" fill="#1d1d1b" stroke="#1d1d1b" stroke-width="0.55">Φ17 1x</text>
<text transform="translate(335.8,597.8) scale(0.64,1)" font-size="39.5" font-weight="700" fill="#1d1d1b">x16</text>
<text transform="translate(129,700) scale(0.65,1)" font-size="30.4" font-weight="700" fill="#1d1d1b">A6</text>
<text transform="translate(163,683.4) scale(0.74,1)" font-size="25.7" font-weight="400" fill="#1d1d1b" stroke="#1d1d1b" stroke-width="0.55">2x</text>
<text transform="translate(72.2,754) scale(0.68,1)" font-size="30.6" font-weight="700" fill="#1d1d1b">A7</text>
<text transform="translate(73,786) scale(0.64,1)" font-size="30.4" font-weight="700" fill="#1d1d1b">2x</text>
<text transform="translate(262.5,673) scale(0.67,1)" font-size="28.9" font-weight="700" fill="#1d1d1b">A8</text>
<text transform="translate(262.5,705) scale(0.7,1)" font-size="27.6" font-weight="700" fill="#1d1d1b">2x</text>
<text transform="translate(271,795) scale(0.68,1)" font-size="28.9" font-weight="700" fill="#1d1d1b">A5</text>
<text transform="translate(269.5,827) scale(0.7,1)" font-size="28.9" font-weight="700" fill="#1d1d1b">2x</text>
<text transform="translate(491.1,344.4) scale(0.59,1)" font-size="30.5" font-weight="700" fill="#1d1d1b">Φ10</text>
<text transform="translate(498,368.5) scale(0.77,1)" font-size="25.7" font-weight="400" fill="#1d1d1b" stroke="#1d1d1b" stroke-width="0.55">2x</text>
<text transform="translate(467.8,693) scale(0.67,1)" font-size="40" font-weight="700" fill="#1d1d1b">x26</text>
<text transform="translate(529.7,695.2) scale(0.67,1)" font-size="39.5" font-weight="700" fill="#1d1d1b">Φ8</text>
<text transform="translate(537.6,718.9) scale(0.745,1)" font-size="25.7" font-weight="400" fill="#1d1d1b" stroke="#1d1d1b" stroke-width="0.55">1x</text>
<text transform="translate(566,951.8) scale(0.68,1)" font-size="23.2" font-weight="700" fill="#1d1d1b">A2</text>
<text transform="translate(566.3,976.8) scale(0.674,1)" font-size="23.2" font-weight="700" fill="#1d1d1b">1x</text>
</svg>
</body></html>
